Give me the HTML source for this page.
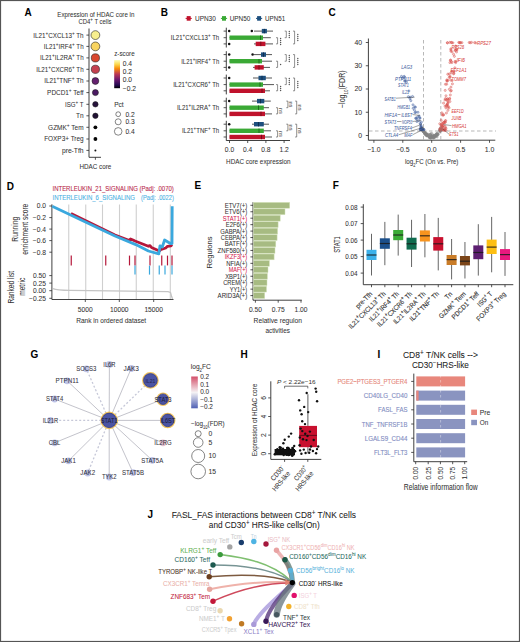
<!DOCTYPE html>
<html><head><meta charset="utf-8"><style>
html,body{margin:0;padding:0;background:#fff;}
#f{position:relative;width:520px;height:642px;overflow:hidden;background:#fff;}
svg{position:absolute;left:0;top:0;}
text{font-family:"Liberation Sans",sans-serif;}
</style></head><body><div id="f">
<svg width="520" height="642" viewBox="0 0 520 642" font-family="Liberation Sans, sans-serif" fill="#333">
<text x="24.6" y="16.4" font-size="10" font-weight="bold" fill="#000">A</text>
<text x="57.30" y="16.77" font-size="7.13" fill="#333333" stroke="#333333" stroke-width="0.05" textLength="77.10" lengthAdjust="spacingAndGlyphs">Expression of HDAC core in</text>
<text x="78.50" y="23.97" font-size="7.13" fill="#333333" stroke="#333333" stroke-width="0.05" textLength="32.90" lengthAdjust="spacingAndGlyphs">CD4<tspan font-size="75%" baseline-shift="super">+</tspan> T cells</text>
<line x1="89.00" y1="28.50" x2="89.00" y2="157.30" stroke="#2b2b2b" stroke-width="0.9"/>
<line x1="89.00" y1="157.30" x2="101.00" y2="157.30" stroke="#2b2b2b" stroke-width="0.9"/>
<line x1="95.40" y1="157.30" x2="95.40" y2="159.80" stroke="#2b2b2b" stroke-width="0.8"/>
<text x="95.40" y="169.14" font-size="7.34" text-anchor="middle" fill="#333333" stroke="#333333" stroke-width="0.05" textLength="32.00" lengthAdjust="spacingAndGlyphs">HDAC core</text>
<line x1="86.40" y1="35.10" x2="89.00" y2="35.10" stroke="#2b2b2b" stroke-width="0.8"/>
<text x="83.60" y="37.59" font-size="6.91" text-anchor="end" fill="#333333" stroke="#333333" stroke-width="0.05" textLength="50.30" lengthAdjust="spacingAndGlyphs">IL21<tspan font-size="75%" baseline-shift="super">+</tspan>CXCL13<tspan font-size="75%" baseline-shift="super">+</tspan> Th</text>
<circle cx="95.40" cy="35.10" r="4.40" fill="#f7ef8e" stroke="#222" stroke-width="0.6"/>
<line x1="86.40" y1="46.40" x2="89.00" y2="46.40" stroke="#2b2b2b" stroke-width="0.8"/>
<text x="83.60" y="48.89" font-size="6.91" text-anchor="end" fill="#333333" stroke="#333333" stroke-width="0.05" textLength="39.80" lengthAdjust="spacingAndGlyphs">IL21<tspan font-size="75%" baseline-shift="super">+</tspan>IRF4<tspan font-size="75%" baseline-shift="super">+</tspan> Th</text>
<circle cx="95.40" cy="46.40" r="4.40" fill="#f8d460" stroke="#222" stroke-width="0.6"/>
<line x1="86.40" y1="57.90" x2="89.00" y2="57.90" stroke="#2b2b2b" stroke-width="0.8"/>
<text x="83.60" y="60.39" font-size="6.91" text-anchor="end" fill="#333333" stroke="#333333" stroke-width="0.05" textLength="43.60" lengthAdjust="spacingAndGlyphs">IL21<tspan font-size="75%" baseline-shift="super">+</tspan>IL2RA<tspan font-size="75%" baseline-shift="super">+</tspan> Th</text>
<circle cx="95.40" cy="57.90" r="4.10" fill="#d9472f" stroke="#222" stroke-width="0.6"/>
<line x1="86.40" y1="69.30" x2="89.00" y2="69.30" stroke="#2b2b2b" stroke-width="0.8"/>
<text x="83.60" y="71.79" font-size="6.91" text-anchor="end" fill="#333333" stroke="#333333" stroke-width="0.05" textLength="47.40" lengthAdjust="spacingAndGlyphs">IL21<tspan font-size="75%" baseline-shift="super">+</tspan>CXCR6<tspan font-size="75%" baseline-shift="super">+</tspan> Th</text>
<circle cx="95.40" cy="69.30" r="4.10" fill="#c4414f" stroke="#222" stroke-width="0.6"/>
<line x1="86.40" y1="81.00" x2="89.00" y2="81.00" stroke="#2b2b2b" stroke-width="0.8"/>
<text x="83.60" y="83.49" font-size="6.91" text-anchor="end" fill="#333333" stroke="#333333" stroke-width="0.05" textLength="39.40" lengthAdjust="spacingAndGlyphs">IL21<tspan font-size="75%" baseline-shift="super">+</tspan>TNF<tspan font-size="75%" baseline-shift="super">+</tspan> Th</text>
<circle cx="95.40" cy="81.00" r="3.40" fill="#65206f" stroke="#222" stroke-width="0.6"/>
<line x1="86.40" y1="92.60" x2="89.00" y2="92.60" stroke="#2b2b2b" stroke-width="0.8"/>
<text x="83.60" y="95.09" font-size="6.91" text-anchor="end" fill="#333333" stroke="#333333" stroke-width="0.05" textLength="36.50" lengthAdjust="spacingAndGlyphs">PDCD1<tspan font-size="75%" baseline-shift="super">+</tspan> Teff</text>
<circle cx="95.40" cy="92.60" r="3.00" fill="#4b1a63" stroke="#222" stroke-width="0.6"/>
<line x1="86.40" y1="104.30" x2="89.00" y2="104.30" stroke="#2b2b2b" stroke-width="0.8"/>
<text x="83.60" y="106.79" font-size="6.91" text-anchor="end" fill="#333333" stroke="#333333" stroke-width="0.05" textLength="18.60" lengthAdjust="spacingAndGlyphs">ISG<tspan font-size="75%" baseline-shift="super">+</tspan> T</text>
<circle cx="95.40" cy="104.30" r="2.70" fill="#27123c" stroke="#222" stroke-width="0.6"/>
<line x1="86.40" y1="115.80" x2="89.00" y2="115.80" stroke="#2b2b2b" stroke-width="0.8"/>
<text x="83.60" y="118.29" font-size="6.91" text-anchor="end" fill="#333333" stroke="#333333" stroke-width="0.05" textLength="7.60" lengthAdjust="spacingAndGlyphs">Tn</text>
<circle cx="95.40" cy="115.80" r="2.70" fill="#211134" stroke="#222" stroke-width="0.6"/>
<line x1="86.40" y1="127.30" x2="89.00" y2="127.30" stroke="#2b2b2b" stroke-width="0.8"/>
<text x="83.60" y="129.79" font-size="6.91" text-anchor="end" fill="#333333" stroke="#333333" stroke-width="0.05" textLength="35.50" lengthAdjust="spacingAndGlyphs">GZMK<tspan font-size="75%" baseline-shift="super">+</tspan> Tem</text>
<circle cx="95.40" cy="127.30" r="1.90" fill="#050505"/>
<line x1="86.40" y1="139.00" x2="89.00" y2="139.00" stroke="#2b2b2b" stroke-width="0.8"/>
<text x="83.60" y="141.49" font-size="6.91" text-anchor="end" fill="#333333" stroke="#333333" stroke-width="0.05" textLength="39.40" lengthAdjust="spacingAndGlyphs">FOXP3+ Treg</text>
<circle cx="95.40" cy="139.00" r="1.90" fill="#050505"/>
<line x1="86.40" y1="150.40" x2="89.00" y2="150.40" stroke="#2b2b2b" stroke-width="0.8"/>
<text x="83.60" y="152.89" font-size="6.91" text-anchor="end" fill="#333333" stroke="#333333" stroke-width="0.05" textLength="21.70" lengthAdjust="spacingAndGlyphs">pre-Tfh</text>
<circle cx="95.40" cy="150.40" r="1.00" fill="#111"/>
<text x="114.20" y="56.04" font-size="7.34" fill="#333333" stroke="#333333" stroke-width="0.05" textLength="20.50" lengthAdjust="spacingAndGlyphs">z-score</text>
<defs><linearGradient id="inf" x1="0" y1="0" x2="0" y2="1"><stop offset="0" stop-color="#fcfdbf"/><stop offset="0.15" stop-color="#fcd94e"/><stop offset="0.3" stop-color="#f98e09"/><stop offset="0.5" stop-color="#bc3754"/><stop offset="0.7" stop-color="#6a176e"/><stop offset="0.88" stop-color="#280b53"/><stop offset="1" stop-color="#000004"/></linearGradient><linearGradient id="rdbu" x1="0" y1="0" x2="0" y2="1"><stop offset="0" stop-color="#d4506a"/><stop offset="0.5" stop-color="#f4f2f4"/><stop offset="1" stop-color="#4f60b4"/></linearGradient></defs>
<rect x="114.20" y="60.00" width="5.80" height="28.20" fill="url(#inf)"/>
<text x="122.80" y="65.81" font-size="6.7" fill="#333333" stroke="#333333" stroke-width="0.05">0.4</text>
<text x="122.80" y="74.01" font-size="6.7" fill="#333333" stroke="#333333" stroke-width="0.05">0.2</text>
<text x="122.80" y="82.41" font-size="6.7" fill="#333333" stroke="#333333" stroke-width="0.05">0.0</text>
<text x="122.80" y="90.81" font-size="6.7" fill="#333333" stroke="#333333" stroke-width="0.05">−0.2</text>
<text x="114.20" y="107.24" font-size="7.34" fill="#333333" stroke="#333333" stroke-width="0.05" textLength="9.50" lengthAdjust="spacingAndGlyphs">Pct</text>
<circle cx="118.20" cy="114.20" r="2.40" fill="none" stroke="#333" stroke-width="0.6"/>
<text x="125.40" y="116.61" font-size="6.7" fill="#333333" stroke="#333333" stroke-width="0.05">0.2</text>
<circle cx="118.20" cy="121.80" r="3.00" fill="none" stroke="#333" stroke-width="0.6"/>
<text x="125.40" y="124.21" font-size="6.7" fill="#333333" stroke="#333333" stroke-width="0.05">0.3</text>
<circle cx="118.20" cy="131.40" r="3.80" fill="none" stroke="#333" stroke-width="0.6"/>
<text x="125.40" y="133.81" font-size="6.7" fill="#333333" stroke="#333333" stroke-width="0.05">0.4</text>
<text x="160.8" y="16.3" font-size="10" font-weight="bold" fill="#000">B</text>
<line x1="185.60" y1="18.40" x2="191.80" y2="18.40" stroke="#c0122c" stroke-width="1.0"/>
<rect x="186.70" y="16.10" width="4.00" height="4.60" fill="#c0122c"/>
<text x="195.00" y="20.89" font-size="6.91" fill="#333333" stroke="#333333" stroke-width="0.05" textLength="20.80" lengthAdjust="spacingAndGlyphs">UPN30</text>
<line x1="220.90" y1="18.40" x2="227.10" y2="18.40" stroke="#3aa935" stroke-width="1.0"/>
<rect x="222.00" y="16.10" width="4.00" height="4.60" fill="#3aa935"/>
<text x="229.70" y="20.89" font-size="6.91" fill="#333333" stroke="#333333" stroke-width="0.05" textLength="20.70" lengthAdjust="spacingAndGlyphs">UPN50</text>
<line x1="256.00" y1="18.40" x2="262.20" y2="18.40" stroke="#1d4f7e" stroke-width="1.0"/>
<rect x="257.10" y="16.10" width="4.00" height="4.60" fill="#1d4f7e"/>
<text x="265.00" y="20.89" font-size="6.91" fill="#333333" stroke="#333333" stroke-width="0.05" textLength="20.10" lengthAdjust="spacingAndGlyphs">UPN51</text>
<line x1="226.30" y1="27.70" x2="226.30" y2="47.50" stroke="#2b2b2b" stroke-width="0.9"/>
<text x="219.20" y="40.19" font-size="6.91" text-anchor="end" fill="#333333" stroke="#333333" stroke-width="0.05" textLength="48.40" lengthAdjust="spacingAndGlyphs">IL21<tspan font-size="75%" baseline-shift="super">+</tspan>CXCL13<tspan font-size="75%" baseline-shift="super">+</tspan> Th</text>
<line x1="223.60" y1="31.10" x2="226.30" y2="31.10" stroke="#2b2b2b" stroke-width="0.8"/>
<line x1="254.00" y1="31.10" x2="273.00" y2="31.10" stroke="#383838" stroke-width="0.85"/>
<rect x="261.80" y="28.90" width="5.10" height="4.40" fill="#1d4f7e"/>
<line x1="264.40" y1="28.90" x2="264.40" y2="33.30" stroke="#0f2f50" stroke-width="1.0"/>
<circle cx="229.20" cy="31.10" r="1.25" fill="#111"/>
<circle cx="251.80" cy="31.10" r="1.25" fill="#111"/>
<line x1="223.60" y1="37.70" x2="226.30" y2="37.70" stroke="#2b2b2b" stroke-width="0.8"/>
<line x1="229.50" y1="37.70" x2="270.80" y2="37.70" stroke="#383838" stroke-width="0.85"/>
<rect x="229.50" y="35.50" width="33.50" height="4.40" fill="#3aa935"/>
<line x1="260.50" y1="35.50" x2="260.50" y2="39.90" stroke="#1f6a1c" stroke-width="1.0"/>
<line x1="223.60" y1="43.90" x2="226.30" y2="43.90" stroke="#2b2b2b" stroke-width="0.8"/>
<line x1="254.00" y1="43.90" x2="273.00" y2="43.90" stroke="#383838" stroke-width="0.85"/>
<rect x="255.70" y="41.70" width="9.70" height="4.40" fill="#c0122c"/>
<line x1="260.80" y1="41.70" x2="260.80" y2="46.10" stroke="#7a0a1a" stroke-width="1.0"/>
<circle cx="229.20" cy="43.90" r="1.25" fill="#111"/>
<path d="M276.0,37.7 H277.6 V43.9 H276.0" stroke="#444" stroke-width="0.6" fill="none"/>
<circle cx="280.60" cy="38.50" r="0.70" fill="#555"/>
<circle cx="280.60" cy="40.50" r="0.70" fill="#555"/>
<circle cx="280.60" cy="42.50" r="0.70" fill="#555"/>
<circle cx="280.60" cy="44.50" r="0.70" fill="#555"/>
<path d="M284.7,31.1 H286.3 V37.7 H284.7" stroke="#444" stroke-width="0.6" fill="none"/>
<circle cx="289.30" cy="31.50" r="0.70" fill="#555"/>
<circle cx="289.30" cy="33.50" r="0.70" fill="#555"/>
<circle cx="289.30" cy="35.50" r="0.70" fill="#555"/>
<circle cx="289.30" cy="37.50" r="0.70" fill="#555"/>
<path d="M293.0,31.1 H294.6 V43.9 H293.0" stroke="#444" stroke-width="0.6" fill="none"/>
<circle cx="297.80" cy="34.50" r="0.70" fill="#555"/>
<circle cx="297.80" cy="36.50" r="0.70" fill="#555"/>
<circle cx="297.80" cy="38.50" r="0.70" fill="#555"/>
<circle cx="297.80" cy="40.50" r="0.70" fill="#555"/>
<line x1="226.30" y1="51.20" x2="226.30" y2="71.00" stroke="#2b2b2b" stroke-width="0.9"/>
<text x="219.20" y="63.69" font-size="6.91" text-anchor="end" fill="#333333" stroke="#333333" stroke-width="0.05" textLength="38.00" lengthAdjust="spacingAndGlyphs">IL21<tspan font-size="75%" baseline-shift="super">+</tspan>IRF4<tspan font-size="75%" baseline-shift="super">+</tspan> Th</text>
<line x1="223.60" y1="54.60" x2="226.30" y2="54.60" stroke="#2b2b2b" stroke-width="0.8"/>
<line x1="254.00" y1="54.60" x2="272.00" y2="54.60" stroke="#383838" stroke-width="0.85"/>
<rect x="261.00" y="52.40" width="5.00" height="4.40" fill="#1d4f7e"/>
<line x1="263.50" y1="52.40" x2="263.50" y2="56.80" stroke="#0f2f50" stroke-width="1.0"/>
<circle cx="229.20" cy="54.60" r="1.25" fill="#111"/>
<circle cx="252.60" cy="54.60" r="1.25" fill="#111"/>
<line x1="223.60" y1="61.20" x2="226.30" y2="61.20" stroke="#2b2b2b" stroke-width="0.8"/>
<line x1="229.50" y1="61.20" x2="272.00" y2="61.20" stroke="#383838" stroke-width="0.85"/>
<rect x="229.50" y="59.00" width="32.50" height="4.40" fill="#3aa935"/>
<line x1="259.00" y1="59.00" x2="259.00" y2="63.40" stroke="#1f6a1c" stroke-width="1.0"/>
<line x1="223.60" y1="67.40" x2="226.30" y2="67.40" stroke="#2b2b2b" stroke-width="0.8"/>
<line x1="253.00" y1="67.40" x2="270.00" y2="67.40" stroke="#383838" stroke-width="0.85"/>
<rect x="254.60" y="65.20" width="9.20" height="4.40" fill="#c0122c"/>
<line x1="259.00" y1="65.20" x2="259.00" y2="69.60" stroke="#7a0a1a" stroke-width="1.0"/>
<circle cx="229.20" cy="67.40" r="1.25" fill="#111"/>
<path d="M276.0,61.2 H277.6 V67.4 H276.0" stroke="#444" stroke-width="0.6" fill="none"/>
<circle cx="280.60" cy="64.50" r="0.70" fill="#555"/>
<path d="M284.7,54.6 H286.3 V61.2 H284.7" stroke="#444" stroke-width="0.6" fill="none"/>
<circle cx="289.30" cy="55.50" r="0.70" fill="#555"/>
<circle cx="289.30" cy="57.50" r="0.70" fill="#555"/>
<circle cx="289.30" cy="59.50" r="0.70" fill="#555"/>
<circle cx="289.30" cy="61.50" r="0.70" fill="#555"/>
<path d="M293.0,54.6 H294.6 V67.4 H293.0" stroke="#444" stroke-width="0.6" fill="none"/>
<circle cx="297.80" cy="58.50" r="0.70" fill="#555"/>
<circle cx="297.80" cy="60.50" r="0.70" fill="#555"/>
<circle cx="297.80" cy="62.50" r="0.70" fill="#555"/>
<circle cx="297.80" cy="64.50" r="0.70" fill="#555"/>
<line x1="226.30" y1="74.60" x2="226.30" y2="94.40" stroke="#2b2b2b" stroke-width="0.9"/>
<text x="219.20" y="87.09" font-size="6.91" text-anchor="end" fill="#333333" stroke="#333333" stroke-width="0.05" textLength="46.00" lengthAdjust="spacingAndGlyphs">IL21<tspan font-size="75%" baseline-shift="super">+</tspan>CXCR6<tspan font-size="75%" baseline-shift="super">+</tspan> Th</text>
<line x1="223.60" y1="78.00" x2="226.30" y2="78.00" stroke="#2b2b2b" stroke-width="0.8"/>
<line x1="253.00" y1="78.00" x2="272.00" y2="78.00" stroke="#383838" stroke-width="0.85"/>
<rect x="258.50" y="75.80" width="7.30" height="4.40" fill="#1d4f7e"/>
<line x1="262.00" y1="75.80" x2="262.00" y2="80.20" stroke="#0f2f50" stroke-width="1.0"/>
<circle cx="229.20" cy="78.00" r="1.25" fill="#111"/>
<line x1="223.60" y1="84.60" x2="226.30" y2="84.60" stroke="#2b2b2b" stroke-width="0.8"/>
<line x1="229.50" y1="84.60" x2="274.00" y2="84.60" stroke="#383838" stroke-width="0.85"/>
<rect x="229.50" y="82.40" width="33.50" height="4.40" fill="#3aa935"/>
<line x1="260.00" y1="82.40" x2="260.00" y2="86.80" stroke="#1f6a1c" stroke-width="1.0"/>
<line x1="223.60" y1="90.80" x2="226.30" y2="90.80" stroke="#2b2b2b" stroke-width="0.8"/>
<line x1="229.50" y1="90.80" x2="270.00" y2="90.80" stroke="#383838" stroke-width="0.85"/>
<rect x="229.50" y="88.60" width="35.50" height="4.40" fill="#c0122c"/>
<line x1="262.00" y1="88.60" x2="262.00" y2="93.00" stroke="#7a0a1a" stroke-width="1.0"/>
<path d="M276.0,84.6 H277.6 V90.8 H276.0" stroke="#444" stroke-width="0.6" fill="none"/>
<circle cx="280.60" cy="86.50" r="0.70" fill="#555"/>
<circle cx="280.60" cy="88.50" r="0.70" fill="#555"/>
<circle cx="280.60" cy="90.50" r="0.70" fill="#555"/>
<path d="M284.7,78.0 H286.3 V84.6 H284.7" stroke="#444" stroke-width="0.6" fill="none"/>
<circle cx="289.30" cy="78.50" r="0.70" fill="#555"/>
<circle cx="289.30" cy="80.50" r="0.70" fill="#555"/>
<circle cx="289.30" cy="82.50" r="0.70" fill="#555"/>
<circle cx="289.30" cy="84.50" r="0.70" fill="#555"/>
<path d="M293.0,78.0 H294.6 V90.8 H293.0" stroke="#444" stroke-width="0.6" fill="none"/>
<circle cx="297.80" cy="81.50" r="0.70" fill="#555"/>
<circle cx="297.80" cy="83.50" r="0.70" fill="#555"/>
<circle cx="297.80" cy="85.50" r="0.70" fill="#555"/>
<circle cx="297.80" cy="87.50" r="0.70" fill="#555"/>
<line x1="226.30" y1="97.70" x2="226.30" y2="117.50" stroke="#2b2b2b" stroke-width="0.9"/>
<text x="219.20" y="110.19" font-size="6.91" text-anchor="end" fill="#333333" stroke="#333333" stroke-width="0.05" textLength="42.30" lengthAdjust="spacingAndGlyphs">IL21<tspan font-size="75%" baseline-shift="super">+</tspan>IL2RA<tspan font-size="75%" baseline-shift="super">+</tspan> Th</text>
<line x1="223.60" y1="101.10" x2="226.30" y2="101.10" stroke="#2b2b2b" stroke-width="0.8"/>
<line x1="252.00" y1="101.10" x2="270.80" y2="101.10" stroke="#383838" stroke-width="0.85"/>
<rect x="257.00" y="98.90" width="7.30" height="4.40" fill="#1d4f7e"/>
<line x1="260.50" y1="98.90" x2="260.50" y2="103.30" stroke="#0f2f50" stroke-width="1.0"/>
<circle cx="229.20" cy="101.10" r="1.25" fill="#111"/>
<line x1="223.60" y1="107.70" x2="226.30" y2="107.70" stroke="#2b2b2b" stroke-width="0.8"/>
<line x1="229.50" y1="107.70" x2="269.00" y2="107.70" stroke="#383838" stroke-width="0.85"/>
<rect x="229.50" y="105.50" width="34.30" height="4.40" fill="#3aa935"/>
<line x1="258.50" y1="105.50" x2="258.50" y2="109.90" stroke="#1f6a1c" stroke-width="1.0"/>
<line x1="223.60" y1="113.90" x2="226.30" y2="113.90" stroke="#2b2b2b" stroke-width="0.8"/>
<line x1="229.50" y1="113.90" x2="272.00" y2="113.90" stroke="#383838" stroke-width="0.85"/>
<rect x="229.50" y="111.70" width="35.50" height="4.40" fill="#c0122c"/>
<line x1="261.00" y1="111.70" x2="261.00" y2="116.10" stroke="#7a0a1a" stroke-width="1.0"/>
<path d="M276.0,107.7 H277.6 V113.9 H276.0" stroke="#444" stroke-width="0.6" fill="none"/>
<text x="280.60" y="112.82" font-size="5.62" text-anchor="middle" fill="#555" stroke="#555" stroke-width="0.05" transform="rotate(90 280.60 110.80)">ns</text>
<path d="M286.3,101.1 H287.9 V107.7 H286.3" stroke="#444" stroke-width="0.6" fill="none"/>
<text x="290.90" y="106.42" font-size="5.62" text-anchor="middle" fill="#555" stroke="#555" stroke-width="0.05" transform="rotate(90 290.90 104.40)">ns</text>
<path d="M295.1,101.1 H296.7 V113.9 H295.1" stroke="#444" stroke-width="0.6" fill="none"/>
<text x="299.88" y="109.52" font-size="5.62" text-anchor="middle" fill="#555" stroke="#555" stroke-width="0.05" transform="rotate(90 299.88 107.50)">ns</text>
<line x1="226.30" y1="120.80" x2="226.30" y2="140.60" stroke="#2b2b2b" stroke-width="0.9"/>
<text x="219.20" y="133.29" font-size="6.91" text-anchor="end" fill="#333333" stroke="#333333" stroke-width="0.05" textLength="37.30" lengthAdjust="spacingAndGlyphs">IL21<tspan font-size="75%" baseline-shift="super">+</tspan>TNF<tspan font-size="75%" baseline-shift="super">+</tspan> Th</text>
<line x1="223.60" y1="124.20" x2="226.30" y2="124.20" stroke="#2b2b2b" stroke-width="0.8"/>
<line x1="252.00" y1="124.20" x2="269.00" y2="124.20" stroke="#383838" stroke-width="0.85"/>
<rect x="254.00" y="122.00" width="9.80" height="4.40" fill="#1d4f7e"/>
<line x1="258.50" y1="122.00" x2="258.50" y2="126.40" stroke="#0f2f50" stroke-width="1.0"/>
<circle cx="229.20" cy="124.20" r="1.25" fill="#111"/>
<line x1="223.60" y1="130.80" x2="226.30" y2="130.80" stroke="#2b2b2b" stroke-width="0.8"/>
<line x1="229.50" y1="130.80" x2="271.00" y2="130.80" stroke="#383838" stroke-width="0.85"/>
<rect x="229.50" y="128.60" width="34.30" height="4.40" fill="#3aa935"/>
<line x1="259.00" y1="128.60" x2="259.00" y2="133.00" stroke="#1f6a1c" stroke-width="1.0"/>
<line x1="223.60" y1="137.00" x2="226.30" y2="137.00" stroke="#2b2b2b" stroke-width="0.8"/>
<line x1="229.50" y1="137.00" x2="272.00" y2="137.00" stroke="#383838" stroke-width="0.85"/>
<rect x="229.50" y="134.80" width="35.50" height="4.40" fill="#c0122c"/>
<line x1="261.50" y1="134.80" x2="261.50" y2="139.20" stroke="#7a0a1a" stroke-width="1.0"/>
<path d="M276.0,130.8 H277.6 V137.0 H276.0" stroke="#444" stroke-width="0.6" fill="none"/>
<text x="280.60" y="135.92" font-size="5.62" text-anchor="middle" fill="#555" stroke="#555" stroke-width="0.05" transform="rotate(90 280.60 133.90)">ns</text>
<path d="M286.3,124.2 H287.9 V130.8 H286.3" stroke="#444" stroke-width="0.6" fill="none"/>
<text x="290.90" y="129.52" font-size="5.62" text-anchor="middle" fill="#555" stroke="#555" stroke-width="0.05" transform="rotate(90 290.90 127.50)">ns</text>
<path d="M295.1,124.2 H296.7 V137.0 H295.1" stroke="#444" stroke-width="0.6" fill="none"/>
<text x="299.88" y="132.62" font-size="5.62" text-anchor="middle" fill="#555" stroke="#555" stroke-width="0.05" transform="rotate(90 299.88 130.60)">ns</text>
<line x1="226.30" y1="140.50" x2="290.00" y2="140.50" stroke="#2b2b2b" stroke-width="0.9"/>
<line x1="229.50" y1="140.50" x2="229.50" y2="143.00" stroke="#2b2b2b" stroke-width="0.8"/>
<text x="229.50" y="151.71" font-size="6.7" text-anchor="middle" fill="#333333" stroke="#333333" stroke-width="0.05">0.0</text>
<line x1="247.70" y1="140.50" x2="247.70" y2="143.00" stroke="#2b2b2b" stroke-width="0.8"/>
<text x="247.70" y="151.71" font-size="6.7" text-anchor="middle" fill="#333333" stroke="#333333" stroke-width="0.05">0.4</text>
<line x1="265.90" y1="140.50" x2="265.90" y2="143.00" stroke="#2b2b2b" stroke-width="0.8"/>
<text x="265.90" y="151.71" font-size="6.7" text-anchor="middle" fill="#333333" stroke="#333333" stroke-width="0.05">0.8</text>
<line x1="284.10" y1="140.50" x2="284.10" y2="143.00" stroke="#2b2b2b" stroke-width="0.8"/>
<text x="284.10" y="151.71" font-size="6.7" text-anchor="middle" fill="#333333" stroke="#333333" stroke-width="0.05">1.2</text>
<text x="258.30" y="163.88" font-size="7.99" text-anchor="middle" fill="#333333" stroke="#333333" stroke-width="0.05" textLength="64.50" lengthAdjust="spacingAndGlyphs">HDAC core expression</text>
<text x="328.6" y="16.4" font-size="10" font-weight="bold" fill="#000">C</text>
<line x1="368.40" y1="38.50" x2="368.40" y2="140.20" stroke="#2b2b2b" stroke-width="0.9"/>
<line x1="368.40" y1="140.20" x2="495.30" y2="140.20" stroke="#2b2b2b" stroke-width="0.9"/>
<line x1="365.80" y1="135.50" x2="368.40" y2="135.50" stroke="#2b2b2b" stroke-width="0.8"/>
<text x="362.20" y="137.99" font-size="6.91" text-anchor="end" fill="#333333" stroke="#333333" stroke-width="0.05">0</text>
<line x1="365.80" y1="112.25" x2="368.40" y2="112.25" stroke="#2b2b2b" stroke-width="0.8"/>
<text x="362.20" y="114.74" font-size="6.91" text-anchor="end" fill="#333333" stroke="#333333" stroke-width="0.05">10</text>
<line x1="365.80" y1="89.00" x2="368.40" y2="89.00" stroke="#2b2b2b" stroke-width="0.8"/>
<text x="362.20" y="91.49" font-size="6.91" text-anchor="end" fill="#333333" stroke="#333333" stroke-width="0.05">20</text>
<line x1="365.80" y1="65.75" x2="368.40" y2="65.75" stroke="#2b2b2b" stroke-width="0.8"/>
<text x="362.20" y="68.24" font-size="6.91" text-anchor="end" fill="#333333" stroke="#333333" stroke-width="0.05">30</text>
<line x1="365.80" y1="42.50" x2="368.40" y2="42.50" stroke="#2b2b2b" stroke-width="0.8"/>
<text x="362.20" y="44.99" font-size="6.91" text-anchor="end" fill="#333333" stroke="#333333" stroke-width="0.05">40</text>
<line x1="373.90" y1="140.20" x2="373.90" y2="142.80" stroke="#2b2b2b" stroke-width="0.8"/>
<text x="373.90" y="151.79" font-size="6.91" text-anchor="middle" fill="#333333" stroke="#333333" stroke-width="0.05">−1.0</text>
<line x1="402.80" y1="140.20" x2="402.80" y2="142.80" stroke="#2b2b2b" stroke-width="0.8"/>
<text x="402.80" y="151.79" font-size="6.91" text-anchor="middle" fill="#333333" stroke="#333333" stroke-width="0.05">−0.5</text>
<line x1="431.70" y1="140.20" x2="431.70" y2="142.80" stroke="#2b2b2b" stroke-width="0.8"/>
<text x="431.70" y="151.79" font-size="6.91" text-anchor="middle" fill="#333333" stroke="#333333" stroke-width="0.05">0.0</text>
<line x1="460.60" y1="140.20" x2="460.60" y2="142.80" stroke="#2b2b2b" stroke-width="0.8"/>
<text x="460.60" y="151.79" font-size="6.91" text-anchor="middle" fill="#333333" stroke="#333333" stroke-width="0.05">0.5</text>
<line x1="489.50" y1="140.20" x2="489.50" y2="142.80" stroke="#2b2b2b" stroke-width="0.8"/>
<text x="489.50" y="151.79" font-size="6.91" text-anchor="middle" fill="#333333" stroke="#333333" stroke-width="0.05">1.0</text>
<text x="405.00" y="163.88" font-size="7.99" fill="#333333" stroke="#333333" stroke-width="0.05" textLength="53.40" lengthAdjust="spacingAndGlyphs">log<tspan font-size="65%" baseline-shift="sub">2</tspan>FC (On vs. Pre)</text>
<text x="342.20" y="92.27" font-size="8.53" text-anchor="middle" fill="#333333" stroke="#333333" stroke-width="0.05" textLength="37.50" lengthAdjust="spacingAndGlyphs" transform="rotate(-90 342.20 89.20)">−log<tspan font-size="65%" baseline-shift="sub">10</tspan>(FDR)</text>
<line x1="369.00" y1="131.00" x2="496.00" y2="131.00" stroke="#9a9a9a" stroke-width="0.7" stroke-dasharray="3.5,2.5"/>
<line x1="423.50" y1="40.00" x2="423.50" y2="140.00" stroke="#9a9a9a" stroke-width="0.7" stroke-dasharray="3.5,2.5"/>
<line x1="440.80" y1="40.00" x2="440.80" y2="140.00" stroke="#9a9a9a" stroke-width="0.7" stroke-dasharray="3.5,2.5"/>
<circle cx="430.70" cy="135.00" r="1.05" fill="#858585" stroke="#858585" stroke-width="0.45" fill-opacity="0.25"/>
<circle cx="430.98" cy="136.32" r="1.05" fill="#858585" stroke="#858585" stroke-width="0.45" fill-opacity="0.25"/>
<circle cx="431.86" cy="136.65" r="1.05" fill="#858585" stroke="#858585" stroke-width="0.45" fill-opacity="0.25"/>
<circle cx="431.95" cy="136.86" r="1.05" fill="#858585" stroke="#858585" stroke-width="0.45" fill-opacity="0.25"/>
<circle cx="434.43" cy="136.68" r="1.05" fill="#858585" stroke="#858585" stroke-width="0.45" fill-opacity="0.25"/>
<circle cx="427.57" cy="135.30" r="1.05" fill="#858585" stroke="#858585" stroke-width="0.45" fill-opacity="0.25"/>
<circle cx="423.10" cy="131.40" r="1.05" fill="#858585" stroke="#858585" stroke-width="0.45" fill-opacity="0.25"/>
<circle cx="422.08" cy="127.79" r="1.05" fill="#858585" stroke="#858585" stroke-width="0.45" fill-opacity="0.25"/>
<circle cx="441.83" cy="129.79" r="1.05" fill="#858585" stroke="#858585" stroke-width="0.45" fill-opacity="0.25"/>
<circle cx="434.13" cy="136.37" r="1.05" fill="#858585" stroke="#858585" stroke-width="0.45" fill-opacity="0.25"/>
<circle cx="424.51" cy="133.96" r="1.05" fill="#858585" stroke="#858585" stroke-width="0.45" fill-opacity="0.25"/>
<circle cx="422.45" cy="129.94" r="1.05" fill="#858585" stroke="#858585" stroke-width="0.45" fill-opacity="0.25"/>
<circle cx="425.19" cy="133.57" r="1.05" fill="#858585" stroke="#858585" stroke-width="0.45" fill-opacity="0.25"/>
<circle cx="430.94" cy="137.40" r="1.05" fill="#858585" stroke="#858585" stroke-width="0.45" fill-opacity="0.25"/>
<circle cx="430.45" cy="137.73" r="1.05" fill="#858585" stroke="#858585" stroke-width="0.45" fill-opacity="0.25"/>
<circle cx="434.65" cy="135.44" r="1.05" fill="#858585" stroke="#858585" stroke-width="0.45" fill-opacity="0.25"/>
<circle cx="431.70" cy="136.62" r="1.05" fill="#858585" stroke="#858585" stroke-width="0.45" fill-opacity="0.25"/>
<circle cx="427.04" cy="134.39" r="1.05" fill="#858585" stroke="#858585" stroke-width="0.45" fill-opacity="0.25"/>
<circle cx="442.15" cy="129.70" r="1.05" fill="#858585" stroke="#858585" stroke-width="0.45" fill-opacity="0.25"/>
<circle cx="436.06" cy="135.51" r="1.05" fill="#858585" stroke="#858585" stroke-width="0.45" fill-opacity="0.25"/>
<circle cx="427.82" cy="136.01" r="1.05" fill="#858585" stroke="#858585" stroke-width="0.45" fill-opacity="0.25"/>
<circle cx="422.67" cy="131.00" r="1.05" fill="#858585" stroke="#858585" stroke-width="0.45" fill-opacity="0.25"/>
<circle cx="437.29" cy="132.94" r="1.05" fill="#858585" stroke="#858585" stroke-width="0.45" fill-opacity="0.25"/>
<circle cx="429.32" cy="137.84" r="1.05" fill="#858585" stroke="#858585" stroke-width="0.45" fill-opacity="0.25"/>
<circle cx="441.32" cy="129.25" r="1.05" fill="#858585" stroke="#858585" stroke-width="0.45" fill-opacity="0.25"/>
<circle cx="425.60" cy="133.97" r="1.05" fill="#858585" stroke="#858585" stroke-width="0.45" fill-opacity="0.25"/>
<circle cx="440.32" cy="128.05" r="1.05" fill="#858585" stroke="#858585" stroke-width="0.45" fill-opacity="0.25"/>
<circle cx="429.55" cy="137.33" r="1.05" fill="#858585" stroke="#858585" stroke-width="0.45" fill-opacity="0.25"/>
<circle cx="422.73" cy="129.08" r="1.05" fill="#858585" stroke="#858585" stroke-width="0.45" fill-opacity="0.25"/>
<circle cx="426.87" cy="133.92" r="1.05" fill="#858585" stroke="#858585" stroke-width="0.45" fill-opacity="0.25"/>
<circle cx="423.03" cy="129.44" r="1.05" fill="#858585" stroke="#858585" stroke-width="0.45" fill-opacity="0.25"/>
<circle cx="437.12" cy="136.91" r="1.05" fill="#858585" stroke="#858585" stroke-width="0.45" fill-opacity="0.25"/>
<circle cx="423.68" cy="131.67" r="1.05" fill="#858585" stroke="#858585" stroke-width="0.45" fill-opacity="0.25"/>
<circle cx="422.46" cy="130.30" r="1.05" fill="#858585" stroke="#858585" stroke-width="0.45" fill-opacity="0.25"/>
<circle cx="437.94" cy="134.41" r="1.05" fill="#858585" stroke="#858585" stroke-width="0.45" fill-opacity="0.25"/>
<circle cx="430.60" cy="138.25" r="1.05" fill="#858585" stroke="#858585" stroke-width="0.45" fill-opacity="0.25"/>
<circle cx="425.20" cy="133.50" r="1.05" fill="#858585" stroke="#858585" stroke-width="0.45" fill-opacity="0.25"/>
<circle cx="434.72" cy="135.89" r="1.05" fill="#858585" stroke="#858585" stroke-width="0.45" fill-opacity="0.25"/>
<circle cx="423.65" cy="131.00" r="1.05" fill="#858585" stroke="#858585" stroke-width="0.45" fill-opacity="0.25"/>
<circle cx="426.87" cy="135.52" r="1.05" fill="#858585" stroke="#858585" stroke-width="0.45" fill-opacity="0.25"/>
<circle cx="441.59" cy="129.05" r="1.05" fill="#858585" stroke="#858585" stroke-width="0.45" fill-opacity="0.25"/>
<circle cx="439.78" cy="130.77" r="1.05" fill="#858585" stroke="#858585" stroke-width="0.45" fill-opacity="0.25"/>
<circle cx="425.62" cy="132.47" r="1.05" fill="#858585" stroke="#858585" stroke-width="0.45" fill-opacity="0.25"/>
<circle cx="434.68" cy="137.65" r="1.05" fill="#858585" stroke="#858585" stroke-width="0.45" fill-opacity="0.25"/>
<circle cx="423.31" cy="131.82" r="1.05" fill="#858585" stroke="#858585" stroke-width="0.45" fill-opacity="0.25"/>
<circle cx="426.62" cy="134.93" r="1.05" fill="#858585" stroke="#858585" stroke-width="0.45" fill-opacity="0.25"/>
<circle cx="437.43" cy="133.98" r="1.05" fill="#858585" stroke="#858585" stroke-width="0.45" fill-opacity="0.25"/>
<circle cx="422.74" cy="131.02" r="1.05" fill="#858585" stroke="#858585" stroke-width="0.45" fill-opacity="0.25"/>
<circle cx="423.09" cy="130.17" r="1.05" fill="#858585" stroke="#858585" stroke-width="0.45" fill-opacity="0.25"/>
<circle cx="433.83" cy="136.44" r="1.05" fill="#858585" stroke="#858585" stroke-width="0.45" fill-opacity="0.25"/>
<circle cx="429.01" cy="134.15" r="1.05" fill="#858585" stroke="#858585" stroke-width="0.45" fill-opacity="0.25"/>
<circle cx="431.36" cy="137.92" r="1.05" fill="#858585" stroke="#858585" stroke-width="0.45" fill-opacity="0.25"/>
<circle cx="433.27" cy="137.41" r="1.05" fill="#858585" stroke="#858585" stroke-width="0.45" fill-opacity="0.25"/>
<circle cx="424.44" cy="132.18" r="1.05" fill="#858585" stroke="#858585" stroke-width="0.45" fill-opacity="0.25"/>
<circle cx="440.28" cy="131.17" r="1.05" fill="#858585" stroke="#858585" stroke-width="0.45" fill-opacity="0.25"/>
<circle cx="425.19" cy="132.85" r="1.05" fill="#858585" stroke="#858585" stroke-width="0.45" fill-opacity="0.25"/>
<circle cx="436.73" cy="135.64" r="1.05" fill="#858585" stroke="#858585" stroke-width="0.45" fill-opacity="0.25"/>
<circle cx="441.15" cy="129.26" r="1.05" fill="#858585" stroke="#858585" stroke-width="0.45" fill-opacity="0.25"/>
<circle cx="439.73" cy="130.82" r="1.05" fill="#858585" stroke="#858585" stroke-width="0.45" fill-opacity="0.25"/>
<circle cx="423.38" cy="130.60" r="1.05" fill="#858585" stroke="#858585" stroke-width="0.45" fill-opacity="0.25"/>
<circle cx="422.01" cy="129.83" r="1.05" fill="#858585" stroke="#858585" stroke-width="0.45" fill-opacity="0.25"/>
<circle cx="436.00" cy="135.44" r="1.05" fill="#858585" stroke="#858585" stroke-width="0.45" fill-opacity="0.25"/>
<circle cx="426.60" cy="135.56" r="1.05" fill="#858585" stroke="#858585" stroke-width="0.45" fill-opacity="0.25"/>
<circle cx="427.36" cy="134.37" r="1.05" fill="#858585" stroke="#858585" stroke-width="0.45" fill-opacity="0.25"/>
<circle cx="424.88" cy="133.13" r="1.05" fill="#858585" stroke="#858585" stroke-width="0.45" fill-opacity="0.25"/>
<circle cx="426.00" cy="134.03" r="1.05" fill="#858585" stroke="#858585" stroke-width="0.45" fill-opacity="0.25"/>
<circle cx="432.95" cy="137.89" r="1.05" fill="#858585" stroke="#858585" stroke-width="0.45" fill-opacity="0.25"/>
<circle cx="427.08" cy="134.26" r="1.05" fill="#858585" stroke="#858585" stroke-width="0.45" fill-opacity="0.25"/>
<circle cx="440.46" cy="130.63" r="1.05" fill="#858585" stroke="#858585" stroke-width="0.45" fill-opacity="0.25"/>
<circle cx="426.85" cy="135.35" r="1.05" fill="#858585" stroke="#858585" stroke-width="0.45" fill-opacity="0.25"/>
<circle cx="430.56" cy="137.67" r="1.05" fill="#858585" stroke="#858585" stroke-width="0.45" fill-opacity="0.25"/>
<circle cx="428.94" cy="136.78" r="1.05" fill="#858585" stroke="#858585" stroke-width="0.45" fill-opacity="0.25"/>
<circle cx="433.22" cy="137.64" r="1.05" fill="#858585" stroke="#858585" stroke-width="0.45" fill-opacity="0.25"/>
<circle cx="439.91" cy="132.09" r="1.05" fill="#858585" stroke="#858585" stroke-width="0.45" fill-opacity="0.25"/>
<circle cx="441.79" cy="127.58" r="1.05" fill="#858585" stroke="#858585" stroke-width="0.45" fill-opacity="0.25"/>
<circle cx="433.47" cy="135.65" r="1.05" fill="#858585" stroke="#858585" stroke-width="0.45" fill-opacity="0.25"/>
<circle cx="424.15" cy="132.47" r="1.05" fill="#858585" stroke="#858585" stroke-width="0.45" fill-opacity="0.25"/>
<circle cx="440.31" cy="130.85" r="1.05" fill="#858585" stroke="#858585" stroke-width="0.45" fill-opacity="0.25"/>
<circle cx="435.92" cy="135.87" r="1.05" fill="#858585" stroke="#858585" stroke-width="0.45" fill-opacity="0.25"/>
<circle cx="434.56" cy="136.45" r="1.05" fill="#858585" stroke="#858585" stroke-width="0.45" fill-opacity="0.25"/>
<circle cx="431.33" cy="137.08" r="1.05" fill="#858585" stroke="#858585" stroke-width="0.45" fill-opacity="0.25"/>
<circle cx="442.19" cy="126.85" r="1.05" fill="#858585" stroke="#858585" stroke-width="0.45" fill-opacity="0.25"/>
<circle cx="422.78" cy="128.78" r="1.05" fill="#858585" stroke="#858585" stroke-width="0.45" fill-opacity="0.25"/>
<circle cx="440.10" cy="130.65" r="1.05" fill="#858585" stroke="#858585" stroke-width="0.45" fill-opacity="0.25"/>
<circle cx="436.68" cy="134.55" r="1.05" fill="#858585" stroke="#858585" stroke-width="0.45" fill-opacity="0.25"/>
<circle cx="440.42" cy="128.95" r="1.05" fill="#858585" stroke="#858585" stroke-width="0.45" fill-opacity="0.25"/>
<circle cx="428.59" cy="135.51" r="1.05" fill="#858585" stroke="#858585" stroke-width="0.45" fill-opacity="0.25"/>
<circle cx="439.49" cy="129.99" r="1.05" fill="#858585" stroke="#858585" stroke-width="0.45" fill-opacity="0.25"/>
<circle cx="429.96" cy="137.44" r="1.05" fill="#858585" stroke="#858585" stroke-width="0.45" fill-opacity="0.25"/>
<circle cx="433.23" cy="135.07" r="1.05" fill="#858585" stroke="#858585" stroke-width="0.45" fill-opacity="0.25"/>
<circle cx="434.32" cy="135.63" r="1.05" fill="#858585" stroke="#858585" stroke-width="0.45" fill-opacity="0.25"/>
<circle cx="433.99" cy="137.64" r="1.05" fill="#858585" stroke="#858585" stroke-width="0.45" fill-opacity="0.25"/>
<circle cx="422.88" cy="128.48" r="1.05" fill="#858585" stroke="#858585" stroke-width="0.45" fill-opacity="0.25"/>
<circle cx="439.68" cy="129.29" r="1.05" fill="#858585" stroke="#858585" stroke-width="0.45" fill-opacity="0.25"/>
<circle cx="436.49" cy="133.98" r="1.05" fill="#858585" stroke="#858585" stroke-width="0.45" fill-opacity="0.25"/>
<circle cx="433.40" cy="138.00" r="1.05" fill="#858585" stroke="#858585" stroke-width="0.45" fill-opacity="0.25"/>
<circle cx="430.45" cy="137.29" r="1.05" fill="#858585" stroke="#858585" stroke-width="0.45" fill-opacity="0.25"/>
<circle cx="436.95" cy="134.47" r="1.05" fill="#858585" stroke="#858585" stroke-width="0.45" fill-opacity="0.25"/>
<circle cx="421.83" cy="127.88" r="1.05" fill="#858585" stroke="#858585" stroke-width="0.45" fill-opacity="0.25"/>
<circle cx="426.03" cy="133.75" r="1.05" fill="#858585" stroke="#858585" stroke-width="0.45" fill-opacity="0.25"/>
<circle cx="435.87" cy="134.32" r="1.05" fill="#858585" stroke="#858585" stroke-width="0.45" fill-opacity="0.25"/>
<circle cx="440.53" cy="130.51" r="1.05" fill="#858585" stroke="#858585" stroke-width="0.45" fill-opacity="0.25"/>
<circle cx="426.57" cy="135.78" r="1.05" fill="#858585" stroke="#858585" stroke-width="0.45" fill-opacity="0.25"/>
<circle cx="435.44" cy="136.05" r="1.05" fill="#858585" stroke="#858585" stroke-width="0.45" fill-opacity="0.25"/>
<circle cx="425.45" cy="134.89" r="1.05" fill="#858585" stroke="#858585" stroke-width="0.45" fill-opacity="0.25"/>
<circle cx="434.00" cy="135.53" r="1.05" fill="#858585" stroke="#858585" stroke-width="0.45" fill-opacity="0.25"/>
<circle cx="437.34" cy="134.93" r="1.05" fill="#858585" stroke="#858585" stroke-width="0.45" fill-opacity="0.25"/>
<circle cx="434.09" cy="136.42" r="1.05" fill="#858585" stroke="#858585" stroke-width="0.45" fill-opacity="0.25"/>
<circle cx="430.70" cy="133.85" r="1.05" fill="#858585" stroke="#858585" stroke-width="0.45" fill-opacity="0.25"/>
<circle cx="437.66" cy="133.82" r="1.05" fill="#858585" stroke="#858585" stroke-width="0.45" fill-opacity="0.25"/>
<circle cx="430.04" cy="134.95" r="1.05" fill="#858585" stroke="#858585" stroke-width="0.45" fill-opacity="0.25"/>
<circle cx="429.06" cy="136.59" r="1.05" fill="#858585" stroke="#858585" stroke-width="0.45" fill-opacity="0.25"/>
<circle cx="431.65" cy="133.34" r="1.05" fill="#858585" stroke="#858585" stroke-width="0.45" fill-opacity="0.25"/>
<circle cx="436.72" cy="134.37" r="1.05" fill="#858585" stroke="#858585" stroke-width="0.45" fill-opacity="0.25"/>
<circle cx="438.18" cy="134.52" r="1.05" fill="#858585" stroke="#858585" stroke-width="0.45" fill-opacity="0.25"/>
<circle cx="426.94" cy="135.04" r="1.05" fill="#858585" stroke="#858585" stroke-width="0.45" fill-opacity="0.25"/>
<circle cx="428.46" cy="136.17" r="1.05" fill="#858585" stroke="#858585" stroke-width="0.45" fill-opacity="0.25"/>
<circle cx="430.46" cy="134.71" r="1.05" fill="#858585" stroke="#858585" stroke-width="0.45" fill-opacity="0.25"/>
<circle cx="431.61" cy="135.94" r="1.05" fill="#858585" stroke="#858585" stroke-width="0.45" fill-opacity="0.25"/>
<circle cx="436.58" cy="133.78" r="1.05" fill="#858585" stroke="#858585" stroke-width="0.45" fill-opacity="0.25"/>
<circle cx="431.02" cy="137.13" r="1.05" fill="#858585" stroke="#858585" stroke-width="0.45" fill-opacity="0.25"/>
<circle cx="424.95" cy="133.60" r="1.05" fill="#858585" stroke="#858585" stroke-width="0.45" fill-opacity="0.25"/>
<circle cx="425.10" cy="133.87" r="1.05" fill="#858585" stroke="#858585" stroke-width="0.45" fill-opacity="0.25"/>
<circle cx="432.72" cy="136.07" r="1.05" fill="#858585" stroke="#858585" stroke-width="0.45" fill-opacity="0.25"/>
<circle cx="435.90" cy="136.36" r="1.05" fill="#858585" stroke="#858585" stroke-width="0.45" fill-opacity="0.25"/>
<circle cx="442.76" cy="126.02" r="1.05" fill="#d9534f" stroke="#d9534f" stroke-width="0.45" fill-opacity="0.25"/>
<circle cx="444.95" cy="130.41" r="1.05" fill="#d9534f" stroke="#d9534f" stroke-width="0.45" fill-opacity="0.25"/>
<circle cx="441.22" cy="120.29" r="1.05" fill="#d9534f" stroke="#d9534f" stroke-width="0.45" fill-opacity="0.25"/>
<circle cx="443.53" cy="129.76" r="1.05" fill="#d9534f" stroke="#d9534f" stroke-width="0.45" fill-opacity="0.25"/>
<circle cx="447.01" cy="105.29" r="1.05" fill="#d9534f" stroke="#d9534f" stroke-width="0.45" fill-opacity="0.25"/>
<circle cx="450.92" cy="87.13" r="1.05" fill="#d9534f" stroke="#d9534f" stroke-width="0.45" fill-opacity="0.25"/>
<circle cx="454.37" cy="56.36" r="1.05" fill="#d9534f" stroke="#d9534f" stroke-width="0.45" fill-opacity="0.25"/>
<circle cx="443.40" cy="122.58" r="1.05" fill="#d9534f" stroke="#d9534f" stroke-width="0.45" fill-opacity="0.25"/>
<circle cx="439.75" cy="123.76" r="1.05" fill="#d9534f" stroke="#d9534f" stroke-width="0.45" fill-opacity="0.25"/>
<circle cx="447.94" cy="103.20" r="1.05" fill="#d9534f" stroke="#d9534f" stroke-width="0.45" fill-opacity="0.25"/>
<circle cx="441.71" cy="123.73" r="1.05" fill="#d9534f" stroke="#d9534f" stroke-width="0.45" fill-opacity="0.25"/>
<circle cx="446.43" cy="112.98" r="1.05" fill="#d9534f" stroke="#d9534f" stroke-width="0.45" fill-opacity="0.25"/>
<circle cx="447.77" cy="99.17" r="1.05" fill="#d9534f" stroke="#d9534f" stroke-width="0.45" fill-opacity="0.25"/>
<circle cx="449.20" cy="77.39" r="1.05" fill="#d9534f" stroke="#d9534f" stroke-width="0.45" fill-opacity="0.25"/>
<circle cx="453.55" cy="73.83" r="1.05" fill="#d9534f" stroke="#d9534f" stroke-width="0.45" fill-opacity="0.25"/>
<circle cx="446.02" cy="128.25" r="1.05" fill="#d9534f" stroke="#d9534f" stroke-width="0.45" fill-opacity="0.25"/>
<circle cx="446.75" cy="80.71" r="1.05" fill="#d9534f" stroke="#d9534f" stroke-width="0.45" fill-opacity="0.25"/>
<circle cx="447.06" cy="104.72" r="1.05" fill="#d9534f" stroke="#d9534f" stroke-width="0.45" fill-opacity="0.25"/>
<circle cx="451.32" cy="61.58" r="1.05" fill="#d9534f" stroke="#d9534f" stroke-width="0.45" fill-opacity="0.25"/>
<circle cx="450.35" cy="94.97" r="1.05" fill="#d9534f" stroke="#d9534f" stroke-width="0.45" fill-opacity="0.25"/>
<circle cx="453.91" cy="73.34" r="1.05" fill="#d9534f" stroke="#d9534f" stroke-width="0.45" fill-opacity="0.25"/>
<circle cx="447.37" cy="103.89" r="1.05" fill="#d9534f" stroke="#d9534f" stroke-width="0.45" fill-opacity="0.25"/>
<circle cx="445.29" cy="122.26" r="1.05" fill="#d9534f" stroke="#d9534f" stroke-width="0.45" fill-opacity="0.25"/>
<circle cx="451.95" cy="71.14" r="1.05" fill="#d9534f" stroke="#d9534f" stroke-width="0.45" fill-opacity="0.25"/>
<circle cx="447.31" cy="81.17" r="1.05" fill="#d9534f" stroke="#d9534f" stroke-width="0.45" fill-opacity="0.25"/>
<circle cx="455.69" cy="62.64" r="1.05" fill="#d9534f" stroke="#d9534f" stroke-width="0.45" fill-opacity="0.25"/>
<circle cx="453.55" cy="54.29" r="1.05" fill="#d9534f" stroke="#d9534f" stroke-width="0.45" fill-opacity="0.25"/>
<circle cx="449.14" cy="73.94" r="1.05" fill="#d9534f" stroke="#d9534f" stroke-width="0.45" fill-opacity="0.25"/>
<circle cx="454.91" cy="61.58" r="1.05" fill="#d9534f" stroke="#d9534f" stroke-width="0.45" fill-opacity="0.25"/>
<circle cx="441.85" cy="112.78" r="1.05" fill="#d9534f" stroke="#d9534f" stroke-width="0.45" fill-opacity="0.25"/>
<circle cx="446.35" cy="105.73" r="1.05" fill="#d9534f" stroke="#d9534f" stroke-width="0.45" fill-opacity="0.25"/>
<circle cx="450.07" cy="76.20" r="1.05" fill="#d9534f" stroke="#d9534f" stroke-width="0.45" fill-opacity="0.25"/>
<circle cx="444.81" cy="130.31" r="1.05" fill="#d9534f" stroke="#d9534f" stroke-width="0.45" fill-opacity="0.25"/>
<circle cx="444.90" cy="129.16" r="1.05" fill="#d9534f" stroke="#d9534f" stroke-width="0.45" fill-opacity="0.25"/>
<circle cx="442.13" cy="124.08" r="1.05" fill="#d9534f" stroke="#d9534f" stroke-width="0.45" fill-opacity="0.25"/>
<circle cx="447.75" cy="74.23" r="1.05" fill="#d9534f" stroke="#d9534f" stroke-width="0.45" fill-opacity="0.25"/>
<circle cx="443.31" cy="125.37" r="1.05" fill="#d9534f" stroke="#d9534f" stroke-width="0.45" fill-opacity="0.25"/>
<circle cx="452.09" cy="80.60" r="1.05" fill="#d9534f" stroke="#d9534f" stroke-width="0.45" fill-opacity="0.25"/>
<circle cx="452.42" cy="83.89" r="1.05" fill="#d9534f" stroke="#d9534f" stroke-width="0.45" fill-opacity="0.25"/>
<circle cx="449.94" cy="101.52" r="1.05" fill="#d9534f" stroke="#d9534f" stroke-width="0.45" fill-opacity="0.25"/>
<circle cx="440.68" cy="128.30" r="1.05" fill="#d9534f" stroke="#d9534f" stroke-width="0.45" fill-opacity="0.25"/>
<circle cx="445.41" cy="98.64" r="1.05" fill="#d9534f" stroke="#d9534f" stroke-width="0.45" fill-opacity="0.25"/>
<circle cx="450.66" cy="80.08" r="1.05" fill="#d9534f" stroke="#d9534f" stroke-width="0.45" fill-opacity="0.25"/>
<circle cx="449.51" cy="98.97" r="1.05" fill="#d9534f" stroke="#d9534f" stroke-width="0.45" fill-opacity="0.25"/>
<circle cx="445.98" cy="95.75" r="1.05" fill="#d9534f" stroke="#d9534f" stroke-width="0.45" fill-opacity="0.25"/>
<circle cx="447.91" cy="110.36" r="1.05" fill="#d9534f" stroke="#d9534f" stroke-width="0.45" fill-opacity="0.25"/>
<circle cx="449.91" cy="62.59" r="1.05" fill="#d9534f" stroke="#d9534f" stroke-width="0.45" fill-opacity="0.25"/>
<circle cx="454.87" cy="67.81" r="1.05" fill="#d9534f" stroke="#d9534f" stroke-width="0.45" fill-opacity="0.25"/>
<circle cx="447.50" cy="98.84" r="1.05" fill="#d9534f" stroke="#d9534f" stroke-width="0.45" fill-opacity="0.25"/>
<circle cx="443.87" cy="122.49" r="1.05" fill="#d9534f" stroke="#d9534f" stroke-width="0.45" fill-opacity="0.25"/>
<circle cx="447.49" cy="100.63" r="1.05" fill="#d9534f" stroke="#d9534f" stroke-width="0.45" fill-opacity="0.25"/>
<circle cx="446.00" cy="130.33" r="1.05" fill="#d9534f" stroke="#d9534f" stroke-width="0.45" fill-opacity="0.25"/>
<circle cx="446.11" cy="99.54" r="1.05" fill="#d9534f" stroke="#d9534f" stroke-width="0.45" fill-opacity="0.25"/>
<circle cx="451.11" cy="72.90" r="1.05" fill="#d9534f" stroke="#d9534f" stroke-width="0.45" fill-opacity="0.25"/>
<circle cx="447.99" cy="101.64" r="1.05" fill="#d9534f" stroke="#d9534f" stroke-width="0.45" fill-opacity="0.25"/>
<circle cx="442.95" cy="129.09" r="1.05" fill="#d9534f" stroke="#d9534f" stroke-width="0.45" fill-opacity="0.25"/>
<circle cx="449.10" cy="107.87" r="1.05" fill="#d9534f" stroke="#d9534f" stroke-width="0.45" fill-opacity="0.25"/>
<circle cx="450.71" cy="60.14" r="1.05" fill="#d9534f" stroke="#d9534f" stroke-width="0.45" fill-opacity="0.25"/>
<circle cx="443.55" cy="103.12" r="1.05" fill="#d9534f" stroke="#d9534f" stroke-width="0.45" fill-opacity="0.25"/>
<circle cx="448.26" cy="106.31" r="1.05" fill="#d9534f" stroke="#d9534f" stroke-width="0.45" fill-opacity="0.25"/>
<circle cx="451.92" cy="62.58" r="1.05" fill="#d9534f" stroke="#d9534f" stroke-width="0.45" fill-opacity="0.25"/>
<circle cx="442.34" cy="115.01" r="1.05" fill="#d9534f" stroke="#d9534f" stroke-width="0.45" fill-opacity="0.25"/>
<circle cx="451.32" cy="90.56" r="1.05" fill="#d9534f" stroke="#d9534f" stroke-width="0.45" fill-opacity="0.25"/>
<circle cx="445.15" cy="126.33" r="1.05" fill="#d9534f" stroke="#d9534f" stroke-width="0.45" fill-opacity="0.25"/>
<circle cx="440.17" cy="130.45" r="1.05" fill="#d9534f" stroke="#d9534f" stroke-width="0.45" fill-opacity="0.25"/>
<circle cx="445.22" cy="120.92" r="1.05" fill="#d9534f" stroke="#d9534f" stroke-width="0.45" fill-opacity="0.25"/>
<circle cx="443.62" cy="114.67" r="1.05" fill="#d9534f" stroke="#d9534f" stroke-width="0.45" fill-opacity="0.25"/>
<circle cx="445.19" cy="90.39" r="1.05" fill="#d9534f" stroke="#d9534f" stroke-width="0.45" fill-opacity="0.25"/>
<circle cx="446.82" cy="79.88" r="1.05" fill="#d9534f" stroke="#d9534f" stroke-width="0.45" fill-opacity="0.25"/>
<circle cx="444.92" cy="100.01" r="1.05" fill="#d9534f" stroke="#d9534f" stroke-width="0.45" fill-opacity="0.25"/>
<circle cx="443.80" cy="122.68" r="1.05" fill="#d9534f" stroke="#d9534f" stroke-width="0.45" fill-opacity="0.25"/>
<circle cx="445.00" cy="106.06" r="1.05" fill="#d9534f" stroke="#d9534f" stroke-width="0.45" fill-opacity="0.25"/>
<circle cx="445.89" cy="107.90" r="1.05" fill="#d9534f" stroke="#d9534f" stroke-width="0.45" fill-opacity="0.25"/>
<circle cx="441.05" cy="124.79" r="1.05" fill="#d9534f" stroke="#d9534f" stroke-width="0.45" fill-opacity="0.25"/>
<circle cx="449.34" cy="89.33" r="1.05" fill="#d9534f" stroke="#d9534f" stroke-width="0.45" fill-opacity="0.25"/>
<circle cx="449.65" cy="98.38" r="1.05" fill="#d9534f" stroke="#d9534f" stroke-width="0.45" fill-opacity="0.25"/>
<circle cx="450.72" cy="91.12" r="1.05" fill="#d9534f" stroke="#d9534f" stroke-width="0.45" fill-opacity="0.25"/>
<circle cx="445.67" cy="120.59" r="1.05" fill="#d9534f" stroke="#d9534f" stroke-width="0.45" fill-opacity="0.25"/>
<circle cx="453.79" cy="71.94" r="1.05" fill="#d9534f" stroke="#d9534f" stroke-width="0.45" fill-opacity="0.25"/>
<circle cx="443.26" cy="115.10" r="1.05" fill="#d9534f" stroke="#d9534f" stroke-width="0.45" fill-opacity="0.25"/>
<circle cx="450.32" cy="60.21" r="1.05" fill="#d9534f" stroke="#d9534f" stroke-width="0.45" fill-opacity="0.25"/>
<circle cx="456.51" cy="51.98" r="1.05" fill="#d9534f" stroke="#d9534f" stroke-width="0.45" fill-opacity="0.25"/>
<circle cx="441.13" cy="126.11" r="1.05" fill="#d9534f" stroke="#d9534f" stroke-width="0.45" fill-opacity="0.25"/>
<circle cx="447.78" cy="80.30" r="1.05" fill="#d9534f" stroke="#d9534f" stroke-width="0.45" fill-opacity="0.25"/>
<circle cx="445.33" cy="127.83" r="1.05" fill="#d9534f" stroke="#d9534f" stroke-width="0.45" fill-opacity="0.25"/>
<circle cx="447.93" cy="107.26" r="1.05" fill="#d9534f" stroke="#d9534f" stroke-width="0.45" fill-opacity="0.25"/>
<circle cx="442.30" cy="126.50" r="1.05" fill="#d9534f" stroke="#d9534f" stroke-width="0.45" fill-opacity="0.25"/>
<circle cx="445.40" cy="84.29" r="1.05" fill="#d9534f" stroke="#d9534f" stroke-width="0.45" fill-opacity="0.25"/>
<circle cx="444.96" cy="122.49" r="1.05" fill="#d9534f" stroke="#d9534f" stroke-width="0.45" fill-opacity="0.25"/>
<circle cx="455.78" cy="61.43" r="1.05" fill="#d9534f" stroke="#d9534f" stroke-width="0.45" fill-opacity="0.25"/>
<circle cx="443.00" cy="127.00" r="1.05" fill="#d9534f" stroke="#d9534f" stroke-width="0.45" fill-opacity="0.25"/>
<circle cx="450.05" cy="77.20" r="1.05" fill="#d9534f" stroke="#d9534f" stroke-width="0.45" fill-opacity="0.25"/>
<circle cx="446.69" cy="84.24" r="1.05" fill="#d9534f" stroke="#d9534f" stroke-width="0.45" fill-opacity="0.25"/>
<circle cx="439.73" cy="128.92" r="1.05" fill="#d9534f" stroke="#d9534f" stroke-width="0.45" fill-opacity="0.25"/>
<circle cx="442.91" cy="130.05" r="1.05" fill="#d9534f" stroke="#d9534f" stroke-width="0.45" fill-opacity="0.25"/>
<circle cx="461.93" cy="42.64" r="1.05" fill="#d9534f" stroke="#d9534f" stroke-width="0.45" fill-opacity="0.25"/>
<circle cx="451.25" cy="42.41" r="1.05" fill="#d9534f" stroke="#d9534f" stroke-width="0.45" fill-opacity="0.25"/>
<circle cx="452.91" cy="42.80" r="1.05" fill="#d9534f" stroke="#d9534f" stroke-width="0.45" fill-opacity="0.25"/>
<circle cx="475.72" cy="42.86" r="1.05" fill="#d9534f" stroke="#d9534f" stroke-width="0.45" fill-opacity="0.25"/>
<circle cx="449.76" cy="42.34" r="1.05" fill="#d9534f" stroke="#d9534f" stroke-width="0.45" fill-opacity="0.25"/>
<circle cx="474.59" cy="42.58" r="1.05" fill="#d9534f" stroke="#d9534f" stroke-width="0.45" fill-opacity="0.25"/>
<circle cx="469.18" cy="42.50" r="1.05" fill="#d9534f" stroke="#d9534f" stroke-width="0.45" fill-opacity="0.25"/>
<circle cx="460.54" cy="42.61" r="1.05" fill="#d9534f" stroke="#d9534f" stroke-width="0.45" fill-opacity="0.25"/>
<circle cx="459.47" cy="42.66" r="1.05" fill="#d9534f" stroke="#d9534f" stroke-width="0.45" fill-opacity="0.25"/>
<circle cx="447.38" cy="42.72" r="1.05" fill="#d9534f" stroke="#d9534f" stroke-width="0.45" fill-opacity="0.25"/>
<circle cx="471.48" cy="42.41" r="1.05" fill="#d9534f" stroke="#d9534f" stroke-width="0.45" fill-opacity="0.25"/>
<circle cx="460.16" cy="42.74" r="1.05" fill="#d9534f" stroke="#d9534f" stroke-width="0.45" fill-opacity="0.25"/>
<circle cx="458.75" cy="42.42" r="1.05" fill="#d9534f" stroke="#d9534f" stroke-width="0.45" fill-opacity="0.25"/>
<circle cx="451.79" cy="42.61" r="1.05" fill="#d9534f" stroke="#d9534f" stroke-width="0.45" fill-opacity="0.25"/>
<circle cx="447.45" cy="42.84" r="1.05" fill="#d9534f" stroke="#d9534f" stroke-width="0.45" fill-opacity="0.25"/>
<circle cx="470.25" cy="42.72" r="1.05" fill="#d9534f" stroke="#d9534f" stroke-width="0.45" fill-opacity="0.25"/>
<circle cx="456.33" cy="49.04" r="1.05" fill="#d9534f" stroke="#d9534f" stroke-width="0.45" fill-opacity="0.25"/>
<circle cx="450.85" cy="48.80" r="1.05" fill="#d9534f" stroke="#d9534f" stroke-width="0.45" fill-opacity="0.25"/>
<circle cx="452.05" cy="51.86" r="1.05" fill="#d9534f" stroke="#d9534f" stroke-width="0.45" fill-opacity="0.25"/>
<circle cx="455.66" cy="46.07" r="1.05" fill="#d9534f" stroke="#d9534f" stroke-width="0.45" fill-opacity="0.25"/>
<circle cx="456.94" cy="49.96" r="1.05" fill="#d9534f" stroke="#d9534f" stroke-width="0.45" fill-opacity="0.25"/>
<circle cx="455.34" cy="50.52" r="1.05" fill="#d9534f" stroke="#d9534f" stroke-width="0.45" fill-opacity="0.25"/>
<circle cx="450.87" cy="51.17" r="1.05" fill="#d9534f" stroke="#d9534f" stroke-width="0.45" fill-opacity="0.25"/>
<circle cx="456.56" cy="49.56" r="1.05" fill="#d9534f" stroke="#d9534f" stroke-width="0.45" fill-opacity="0.25"/>
<circle cx="455.21" cy="50.12" r="1.05" fill="#d9534f" stroke="#d9534f" stroke-width="0.45" fill-opacity="0.25"/>
<circle cx="450.87" cy="49.78" r="1.05" fill="#d9534f" stroke="#d9534f" stroke-width="0.45" fill-opacity="0.25"/>
<circle cx="420.98" cy="129.51" r="1.05" fill="#3f5f9f" stroke="#3f5f9f" stroke-width="0.45" fill-opacity="0.25"/>
<circle cx="415.62" cy="118.27" r="1.05" fill="#3f5f9f" stroke="#3f5f9f" stroke-width="0.45" fill-opacity="0.25"/>
<circle cx="420.23" cy="123.47" r="1.05" fill="#3f5f9f" stroke="#3f5f9f" stroke-width="0.45" fill-opacity="0.25"/>
<circle cx="413.17" cy="108.27" r="1.05" fill="#3f5f9f" stroke="#3f5f9f" stroke-width="0.45" fill-opacity="0.25"/>
<circle cx="404.15" cy="76.35" r="1.05" fill="#3f5f9f" stroke="#3f5f9f" stroke-width="0.45" fill-opacity="0.25"/>
<circle cx="420.56" cy="124.13" r="1.05" fill="#3f5f9f" stroke="#3f5f9f" stroke-width="0.45" fill-opacity="0.25"/>
<circle cx="415.87" cy="112.16" r="1.05" fill="#3f5f9f" stroke="#3f5f9f" stroke-width="0.45" fill-opacity="0.25"/>
<circle cx="421.38" cy="122.09" r="1.05" fill="#3f5f9f" stroke="#3f5f9f" stroke-width="0.45" fill-opacity="0.25"/>
<circle cx="414.80" cy="106.86" r="1.05" fill="#3f5f9f" stroke="#3f5f9f" stroke-width="0.45" fill-opacity="0.25"/>
<circle cx="412.48" cy="96.47" r="1.05" fill="#3f5f9f" stroke="#3f5f9f" stroke-width="0.45" fill-opacity="0.25"/>
<circle cx="422.26" cy="129.67" r="1.05" fill="#3f5f9f" stroke="#3f5f9f" stroke-width="0.45" fill-opacity="0.25"/>
<circle cx="409.97" cy="98.63" r="1.05" fill="#3f5f9f" stroke="#3f5f9f" stroke-width="0.45" fill-opacity="0.25"/>
<circle cx="416.93" cy="121.57" r="1.05" fill="#3f5f9f" stroke="#3f5f9f" stroke-width="0.45" fill-opacity="0.25"/>
<circle cx="420.62" cy="128.02" r="1.05" fill="#3f5f9f" stroke="#3f5f9f" stroke-width="0.45" fill-opacity="0.25"/>
<circle cx="420.50" cy="129.32" r="1.05" fill="#3f5f9f" stroke="#3f5f9f" stroke-width="0.45" fill-opacity="0.25"/>
<circle cx="405.25" cy="81.08" r="1.05" fill="#3f5f9f" stroke="#3f5f9f" stroke-width="0.45" fill-opacity="0.25"/>
<circle cx="419.17" cy="116.07" r="1.05" fill="#3f5f9f" stroke="#3f5f9f" stroke-width="0.45" fill-opacity="0.25"/>
<circle cx="417.99" cy="112.27" r="1.05" fill="#3f5f9f" stroke="#3f5f9f" stroke-width="0.45" fill-opacity="0.25"/>
<circle cx="415.40" cy="107.20" r="1.05" fill="#3f5f9f" stroke="#3f5f9f" stroke-width="0.45" fill-opacity="0.25"/>
<circle cx="422.12" cy="129.48" r="1.05" fill="#3f5f9f" stroke="#3f5f9f" stroke-width="0.45" fill-opacity="0.25"/>
<circle cx="408.36" cy="96.71" r="1.05" fill="#3f5f9f" stroke="#3f5f9f" stroke-width="0.45" fill-opacity="0.25"/>
<circle cx="402.48" cy="78.14" r="1.05" fill="#3f5f9f" stroke="#3f5f9f" stroke-width="0.45" fill-opacity="0.25"/>
<circle cx="416.28" cy="118.11" r="1.05" fill="#3f5f9f" stroke="#3f5f9f" stroke-width="0.45" fill-opacity="0.25"/>
<circle cx="417.81" cy="116.79" r="1.05" fill="#3f5f9f" stroke="#3f5f9f" stroke-width="0.45" fill-opacity="0.25"/>
<circle cx="423.71" cy="129.57" r="1.05" fill="#3f5f9f" stroke="#3f5f9f" stroke-width="0.45" fill-opacity="0.25"/>
<circle cx="418.77" cy="120.69" r="1.05" fill="#3f5f9f" stroke="#3f5f9f" stroke-width="0.45" fill-opacity="0.25"/>
<circle cx="414.44" cy="110.19" r="1.05" fill="#3f5f9f" stroke="#3f5f9f" stroke-width="0.45" fill-opacity="0.25"/>
<circle cx="421.13" cy="125.85" r="1.05" fill="#3f5f9f" stroke="#3f5f9f" stroke-width="0.45" fill-opacity="0.25"/>
<circle cx="414.95" cy="112.76" r="1.05" fill="#3f5f9f" stroke="#3f5f9f" stroke-width="0.45" fill-opacity="0.25"/>
<circle cx="410.84" cy="100.65" r="1.05" fill="#3f5f9f" stroke="#3f5f9f" stroke-width="0.45" fill-opacity="0.25"/>
<circle cx="420.60" cy="129.68" r="1.05" fill="#3f5f9f" stroke="#3f5f9f" stroke-width="0.45" fill-opacity="0.25"/>
<circle cx="420.18" cy="129.63" r="1.05" fill="#3f5f9f" stroke="#3f5f9f" stroke-width="0.45" fill-opacity="0.25"/>
<circle cx="410.06" cy="97.15" r="1.05" fill="#3f5f9f" stroke="#3f5f9f" stroke-width="0.45" fill-opacity="0.25"/>
<circle cx="406.47" cy="82.03" r="1.05" fill="#3f5f9f" stroke="#3f5f9f" stroke-width="0.45" fill-opacity="0.25"/>
<circle cx="423.92" cy="129.60" r="1.05" fill="#3f5f9f" stroke="#3f5f9f" stroke-width="0.45" fill-opacity="0.25"/>
<circle cx="401.49" cy="76.38" r="1.05" fill="#3f5f9f" stroke="#3f5f9f" stroke-width="0.45" fill-opacity="0.25"/>
<circle cx="404.71" cy="81.09" r="1.05" fill="#3f5f9f" stroke="#3f5f9f" stroke-width="0.45" fill-opacity="0.25"/>
<circle cx="419.79" cy="117.79" r="1.05" fill="#3f5f9f" stroke="#3f5f9f" stroke-width="0.45" fill-opacity="0.25"/>
<circle cx="420.92" cy="126.98" r="1.05" fill="#3f5f9f" stroke="#3f5f9f" stroke-width="0.45" fill-opacity="0.25"/>
<circle cx="404.72" cy="77.27" r="1.05" fill="#3f5f9f" stroke="#3f5f9f" stroke-width="0.45" fill-opacity="0.25"/>
<circle cx="419.98" cy="118.29" r="1.05" fill="#3f5f9f" stroke="#3f5f9f" stroke-width="0.45" fill-opacity="0.25"/>
<circle cx="408.89" cy="90.97" r="1.05" fill="#3f5f9f" stroke="#3f5f9f" stroke-width="0.45" fill-opacity="0.25"/>
<circle cx="422.13" cy="129.17" r="1.05" fill="#3f5f9f" stroke="#3f5f9f" stroke-width="0.45" fill-opacity="0.25"/>
<circle cx="416.73" cy="118.96" r="1.05" fill="#3f5f9f" stroke="#3f5f9f" stroke-width="0.45" fill-opacity="0.25"/>
<circle cx="421.85" cy="129.60" r="1.05" fill="#3f5f9f" stroke="#3f5f9f" stroke-width="0.45" fill-opacity="0.25"/>
<circle cx="421.28" cy="129.07" r="1.05" fill="#3f5f9f" stroke="#3f5f9f" stroke-width="0.45" fill-opacity="0.25"/>
<circle cx="412.99" cy="104.81" r="1.05" fill="#3f5f9f" stroke="#3f5f9f" stroke-width="0.45" fill-opacity="0.25"/>
<circle cx="421.03" cy="126.51" r="1.05" fill="#3f5f9f" stroke="#3f5f9f" stroke-width="0.45" fill-opacity="0.25"/>
<text x="401.20" y="69.38" font-size="6.05" fill="#3f5e9e" stroke="#3f5e9e" stroke-width="0.05" textLength="11.10" lengthAdjust="spacingAndGlyphs" font-style="italic">LAG3</text>
<text x="395.00" y="80.88" font-size="6.05" fill="#3f5e9e" stroke="#3f5e9e" stroke-width="0.05" textLength="16.20" lengthAdjust="spacingAndGlyphs" font-style="italic">PTPN11</text>
<text x="398.00" y="87.38" font-size="6.05" fill="#3f5e9e" stroke="#3f5e9e" stroke-width="0.05" textLength="10.90" lengthAdjust="spacingAndGlyphs" font-style="italic">STAT1</text>
<text x="402.00" y="93.58" font-size="6.05" fill="#3f5e9e" stroke="#3f5e9e" stroke-width="0.05" textLength="6.90" lengthAdjust="spacingAndGlyphs" font-style="italic">IL21</text>
<text x="384.60" y="100.58" font-size="6.05" fill="#3f5e9e" stroke="#3f5e9e" stroke-width="0.05" textLength="11.10" lengthAdjust="spacingAndGlyphs" font-style="italic">SATB1</text>
<text x="397.30" y="108.58" font-size="6.05" fill="#3f5e9e" stroke="#3f5e9e" stroke-width="0.05" textLength="12.70" lengthAdjust="spacingAndGlyphs" font-style="italic">HMGB1</text>
<text x="384.60" y="116.68" font-size="6.05" fill="#3f5e9e" stroke="#3f5e9e" stroke-width="0.05" textLength="12.70" lengthAdjust="spacingAndGlyphs" font-style="italic">HIF1A</text>
<text x="401.20" y="116.68" font-size="6.05" fill="#3f5e9e" stroke="#3f5e9e" stroke-width="0.05" textLength="11.10" lengthAdjust="spacingAndGlyphs" font-style="italic">IL6ST</text>
<text x="384.60" y="123.68" font-size="6.05" fill="#3f5e9e" stroke="#3f5e9e" stroke-width="0.05" textLength="11.60" lengthAdjust="spacingAndGlyphs" font-style="italic">STAT3</text>
<text x="402.00" y="123.68" font-size="6.05" fill="#3f5e9e" stroke="#3f5e9e" stroke-width="0.05" textLength="10.30" lengthAdjust="spacingAndGlyphs" font-style="italic">NOP53</text>
<text x="393.90" y="130.08" font-size="6.05" fill="#3f5e9e" stroke="#3f5e9e" stroke-width="0.05" textLength="18.00" lengthAdjust="spacingAndGlyphs" font-style="italic">TNFRSF4</text>
<text x="385.00" y="136.98" font-size="6.05" fill="#3f5e9e" stroke="#3f5e9e" stroke-width="0.05" textLength="13.00" lengthAdjust="spacingAndGlyphs" font-style="italic">CTLA4</text>
<text x="404.20" y="136.98" font-size="6.05" fill="#3f5e9e" stroke="#3f5e9e" stroke-width="0.05" textLength="8.10" lengthAdjust="spacingAndGlyphs" font-style="italic">MAF</text>
<text x="477.00" y="44.78" font-size="6.05" fill="#d8433f" stroke="#d8433f" stroke-width="0.05" textLength="13.90" lengthAdjust="spacingAndGlyphs" font-style="italic">RPS27</text>
<text x="451.60" y="48.58" font-size="6.05" fill="#d8433f" stroke="#d8433f" stroke-width="0.05" textLength="12.50" lengthAdjust="spacingAndGlyphs" font-style="italic">RPS26</text>
<text x="456.50" y="62.38" font-size="6.05" fill="#d8433f" stroke="#d8433f" stroke-width="0.05" textLength="8.50" lengthAdjust="spacingAndGlyphs" font-style="italic">IFI6</text>
<text x="450.40" y="72.38" font-size="6.05" fill="#d8433f" stroke="#d8433f" stroke-width="0.05" textLength="16.20" lengthAdjust="spacingAndGlyphs" font-style="italic">EEF1A1</text>
<text x="451.60" y="80.88" font-size="6.05" fill="#d8433f" stroke="#d8433f" stroke-width="0.05" textLength="14.30" lengthAdjust="spacingAndGlyphs" font-style="italic">TOMM7</text>
<text x="451.60" y="113.18" font-size="6.05" fill="#d8433f" stroke="#d8433f" stroke-width="0.05" textLength="12.00" lengthAdjust="spacingAndGlyphs" font-style="italic">EEF1D</text>
<text x="451.60" y="120.18" font-size="6.05" fill="#d8433f" stroke="#d8433f" stroke-width="0.05" textLength="9.70" lengthAdjust="spacingAndGlyphs" font-style="italic">JUNB</text>
<text x="452.00" y="127.78" font-size="6.05" fill="#d8433f" stroke="#d8433f" stroke-width="0.05" textLength="14.60" lengthAdjust="spacingAndGlyphs" font-style="italic">HMGA1</text>
<text x="449.30" y="136.38" font-size="6.05" fill="#d8433f" stroke="#d8433f" stroke-width="0.05" textLength="9.20" lengthAdjust="spacingAndGlyphs" font-style="italic">ETS1</text>
<line x1="396.00" y1="98.20" x2="414.60" y2="97.20" stroke="#333" stroke-width="0.45"/>
<line x1="412.50" y1="114.50" x2="420.00" y2="115.50" stroke="#333" stroke-width="0.45"/>
<line x1="412.50" y1="121.50" x2="421.00" y2="120.50" stroke="#333" stroke-width="0.45"/>
<line x1="412.00" y1="127.90" x2="421.50" y2="124.50" stroke="#333" stroke-width="0.45"/>
<line x1="398.50" y1="134.80" x2="423.00" y2="127.50" stroke="#333" stroke-width="0.45"/>
<line x1="412.50" y1="134.80" x2="424.00" y2="129.00" stroke="#333" stroke-width="0.45"/>
<line x1="397.50" y1="114.50" x2="400.50" y2="114.50" stroke="#333" stroke-width="0.45"/>
<line x1="397.00" y1="121.50" x2="401.50" y2="121.50" stroke="#333" stroke-width="0.45"/>
<line x1="451.50" y1="125.60" x2="443.50" y2="124.50" stroke="#333" stroke-width="0.45"/>
<line x1="449.00" y1="134.20" x2="443.00" y2="129.00" stroke="#333" stroke-width="0.45"/>
<text x="6.8" y="189.6" font-size="10" font-weight="bold" fill="#000">D</text>
<text x="52.50" y="191.24" font-size="7.34" fill="#b92a4c" stroke="#b92a4c" stroke-width="0.1" textLength="121.30" lengthAdjust="spacingAndGlyphs">INTERLEUKIN_21_SIGNALING (Padj: .0070)</text>
<text x="52.50" y="199.84" font-size="7.34" fill="#4db2e4" stroke="#4db2e4" stroke-width="0.1" textLength="82.50" lengthAdjust="spacingAndGlyphs">INTERLEUKIN_6_SIGNALING</text>
<text x="141.00" y="199.84" font-size="7.34" fill="#4db2e4" stroke="#4db2e4" stroke-width="0.1" textLength="32.80" lengthAdjust="spacingAndGlyphs">(Padj: .0022)</text>
<line x1="68.75" y1="204.50" x2="68.75" y2="299.50" stroke="#cfcfcf" stroke-width="1.1"/>
<line x1="85.75" y1="204.50" x2="85.75" y2="299.50" stroke="#cfcfcf" stroke-width="1.1"/>
<line x1="102.50" y1="204.50" x2="102.50" y2="299.50" stroke="#cfcfcf" stroke-width="1.1"/>
<line x1="119.50" y1="204.50" x2="119.50" y2="299.50" stroke="#cfcfcf" stroke-width="1.1"/>
<line x1="136.25" y1="204.50" x2="136.25" y2="299.50" stroke="#cfcfcf" stroke-width="1.1"/>
<line x1="153.25" y1="204.50" x2="153.25" y2="299.50" stroke="#cfcfcf" stroke-width="1.1"/>
<line x1="170.30" y1="204.50" x2="170.30" y2="299.50" stroke="#cfcfcf" stroke-width="1.1"/>
<line x1="51.90" y1="204.30" x2="51.90" y2="299.50" stroke="#2b2b2b" stroke-width="0.9"/>
<line x1="51.90" y1="299.50" x2="173.50" y2="299.50" stroke="#2b2b2b" stroke-width="0.9"/>
<line x1="49.30" y1="206.00" x2="51.90" y2="206.00" stroke="#2b2b2b" stroke-width="0.8"/>
<text x="46.00" y="208.41" font-size="6.7" text-anchor="end" fill="#333333" stroke="#333333" stroke-width="0.05">0.0</text>
<line x1="49.30" y1="217.60" x2="51.90" y2="217.60" stroke="#2b2b2b" stroke-width="0.8"/>
<text x="46.00" y="220.01" font-size="6.7" text-anchor="end" fill="#333333" stroke="#333333" stroke-width="0.05">−0.2</text>
<line x1="49.30" y1="229.10" x2="51.90" y2="229.10" stroke="#2b2b2b" stroke-width="0.8"/>
<text x="46.00" y="231.51" font-size="6.7" text-anchor="end" fill="#333333" stroke="#333333" stroke-width="0.05">−0.4</text>
<line x1="49.30" y1="240.60" x2="51.90" y2="240.60" stroke="#2b2b2b" stroke-width="0.8"/>
<text x="46.00" y="243.01" font-size="6.7" text-anchor="end" fill="#333333" stroke="#333333" stroke-width="0.05">−0.6</text>
<line x1="49.30" y1="252.20" x2="51.90" y2="252.20" stroke="#2b2b2b" stroke-width="0.8"/>
<text x="46.00" y="254.61" font-size="6.7" text-anchor="end" fill="#333333" stroke="#333333" stroke-width="0.05">−0.8</text>
<line x1="49.30" y1="275.60" x2="51.90" y2="275.60" stroke="#2b2b2b" stroke-width="0.8"/>
<text x="46.00" y="278.01" font-size="6.7" text-anchor="end" fill="#333333" stroke="#333333" stroke-width="0.05">0.50</text>
<line x1="49.30" y1="283.10" x2="51.90" y2="283.10" stroke="#2b2b2b" stroke-width="0.8"/>
<text x="46.00" y="285.51" font-size="6.7" text-anchor="end" fill="#333333" stroke="#333333" stroke-width="0.05">0.25</text>
<line x1="49.30" y1="290.70" x2="51.90" y2="290.70" stroke="#2b2b2b" stroke-width="0.8"/>
<text x="46.00" y="293.11" font-size="6.7" text-anchor="end" fill="#333333" stroke="#333333" stroke-width="0.05">0.00</text>
<line x1="49.30" y1="298.30" x2="51.90" y2="298.30" stroke="#2b2b2b" stroke-width="0.8"/>
<text x="46.00" y="300.71" font-size="6.7" text-anchor="end" fill="#333333" stroke="#333333" stroke-width="0.05">−0.25</text>
<line x1="85.30" y1="299.50" x2="85.30" y2="302.00" stroke="#2b2b2b" stroke-width="0.8"/>
<text x="85.30" y="311.91" font-size="6.7" text-anchor="middle" fill="#333333" stroke="#333333" stroke-width="0.05">5000</text>
<line x1="119.30" y1="299.50" x2="119.30" y2="302.00" stroke="#2b2b2b" stroke-width="0.8"/>
<text x="119.30" y="311.91" font-size="6.7" text-anchor="middle" fill="#333333" stroke="#333333" stroke-width="0.05">10000</text>
<line x1="153.70" y1="299.50" x2="153.70" y2="302.00" stroke="#2b2b2b" stroke-width="0.8"/>
<text x="153.70" y="311.91" font-size="6.7" text-anchor="middle" fill="#333333" stroke="#333333" stroke-width="0.05">15000</text>
<text x="76.20" y="323.12" font-size="8.1" fill="#333333" stroke="#333333" stroke-width="0.05" textLength="70.00" lengthAdjust="spacingAndGlyphs">Rank in ordered dataset</text>
<text x="15.00" y="232.16" font-size="8.21" text-anchor="middle" fill="#333333" stroke="#333333" stroke-width="0.05" textLength="25.00" lengthAdjust="spacingAndGlyphs" transform="rotate(-90 15.00 229.20)">Running</text>
<text x="25.20" y="232.16" font-size="8.21" text-anchor="middle" fill="#333333" stroke="#333333" stroke-width="0.05" textLength="51.00" lengthAdjust="spacingAndGlyphs" transform="rotate(-90 25.20 229.20)">enrichment score</text>
<text x="11.40" y="290.16" font-size="8.21" text-anchor="middle" fill="#333333" stroke="#333333" stroke-width="0.05" textLength="32.80" lengthAdjust="spacingAndGlyphs" transform="rotate(-90 11.40 287.20)">Ranked list</text>
<text x="21.80" y="289.76" font-size="8.21" text-anchor="middle" fill="#333333" stroke="#333333" stroke-width="0.05" textLength="18.10" lengthAdjust="spacingAndGlyphs" transform="rotate(-90 21.80 286.80)">metric</text>
<path d="M53,288.6 C56,289.8 60,290.2 70,290.4 L168,291.6 L170.5,292.5 L171.5,296 L172.5,299" stroke="#c4c4c4" stroke-width="1.3" fill="none"/>
<path d="M71,213.4 L115,235.0 L128.8,240.4 L130.5,239 L133,240 L135,241 L148.4,246.3 L150,245.6 L151.5,247.5 L159.4,251 L160.5,249.8 L165.7,248 L167.5,246.3 L171,245.8 L172,244.6" stroke="#b5173a" stroke-width="2.8" fill="none" stroke-linejoin="round"/>
<path d="M52.2,206.2 L115,236 L135.8,244.6 L148.4,251 L158.8,253.8 L160,245.8 L162.3,247 L164.6,240 L170.4,243.5 L172,243.5 L172.2,206.3" stroke="#3aa8de" stroke-width="2.8" fill="none" stroke-linejoin="round"/>
<line x1="71.25" y1="255.60" x2="71.25" y2="265.40" stroke="#b5173a" stroke-width="1.2"/>
<line x1="105.75" y1="255.60" x2="105.75" y2="265.40" stroke="#b5173a" stroke-width="1.2"/>
<line x1="129.50" y1="255.60" x2="129.50" y2="265.40" stroke="#b5173a" stroke-width="1.2"/>
<line x1="135.00" y1="255.60" x2="135.00" y2="265.40" stroke="#b5173a" stroke-width="1.2"/>
<line x1="150.00" y1="255.60" x2="150.00" y2="265.40" stroke="#b5173a" stroke-width="1.2"/>
<line x1="161.75" y1="255.60" x2="161.75" y2="265.40" stroke="#b5173a" stroke-width="1.2"/>
<line x1="167.50" y1="255.60" x2="167.50" y2="265.40" stroke="#b5173a" stroke-width="1.2"/>
<line x1="172.00" y1="255.60" x2="172.00" y2="265.40" stroke="#b5173a" stroke-width="1.2"/>
<line x1="135.00" y1="265.60" x2="135.00" y2="274.60" stroke="#3aa8de" stroke-width="1.2"/>
<line x1="149.50" y1="265.60" x2="149.50" y2="274.60" stroke="#3aa8de" stroke-width="1.2"/>
<line x1="159.25" y1="265.60" x2="159.25" y2="274.60" stroke="#3aa8de" stroke-width="1.2"/>
<line x1="165.00" y1="265.60" x2="165.00" y2="274.60" stroke="#3aa8de" stroke-width="1.2"/>
<line x1="172.00" y1="265.60" x2="172.00" y2="274.60" stroke="#3aa8de" stroke-width="1.2"/>
<text x="194.6" y="189.2" font-size="10" font-weight="bold" fill="#000">E</text>
<line x1="253.00" y1="202.20" x2="253.00" y2="300.20" stroke="#2b2b2b" stroke-width="0.9"/>
<line x1="253.00" y1="300.20" x2="301.80" y2="300.20" stroke="#2b2b2b" stroke-width="0.9"/>
<rect x="253.60" y="202.40" width="36.10" height="5.80" fill="#a7bb82" stroke="#d3e2ba" stroke-width="0.5"/>
<line x1="250.40" y1="205.30" x2="253.00" y2="205.30" stroke="#2b2b2b" stroke-width="0.8"/>
<text x="247.20" y="207.71" font-size="6.7" text-anchor="end" fill="#333333" stroke="#333333" stroke-width="0.05" textLength="22.50" lengthAdjust="spacingAndGlyphs">ETV7(+)</text>
<rect x="253.60" y="208.85" width="31.40" height="5.80" fill="#a7bb82" stroke="#d3e2ba" stroke-width="0.5"/>
<line x1="250.40" y1="211.75" x2="253.00" y2="211.75" stroke="#2b2b2b" stroke-width="0.8"/>
<text x="247.20" y="214.16" font-size="6.7" text-anchor="end" fill="#333333" stroke="#333333" stroke-width="0.05" textLength="22.50" lengthAdjust="spacingAndGlyphs">ETV6(+)</text>
<rect x="253.60" y="215.30" width="26.60" height="5.80" fill="#a7bb82" stroke="#d3e2ba" stroke-width="0.5"/>
<line x1="250.40" y1="218.20" x2="253.00" y2="218.20" stroke="#2b2b2b" stroke-width="0.8"/>
<text x="247.20" y="220.61" font-size="6.7" text-anchor="end" fill="#d3204c" stroke="#d3204c" stroke-width="0.05" textLength="24.50" lengthAdjust="spacingAndGlyphs">STAT1(+)</text>
<rect x="253.60" y="221.75" width="24.50" height="5.80" fill="#a7bb82" stroke="#d3e2ba" stroke-width="0.5"/>
<line x1="250.40" y1="224.65" x2="253.00" y2="224.65" stroke="#2b2b2b" stroke-width="0.8"/>
<text x="247.20" y="227.06" font-size="6.7" text-anchor="end" fill="#333333" stroke="#333333" stroke-width="0.05" textLength="21.50" lengthAdjust="spacingAndGlyphs">E2F6(+)</text>
<rect x="253.60" y="228.20" width="24.00" height="5.80" fill="#a7bb82" stroke="#d3e2ba" stroke-width="0.5"/>
<line x1="250.40" y1="231.10" x2="253.00" y2="231.10" stroke="#2b2b2b" stroke-width="0.8"/>
<text x="247.20" y="233.51" font-size="6.7" text-anchor="end" fill="#333333" stroke="#333333" stroke-width="0.05" textLength="27.00" lengthAdjust="spacingAndGlyphs">GABPA(+)</text>
<rect x="253.60" y="234.65" width="23.50" height="5.80" fill="#a7bb82" stroke="#d3e2ba" stroke-width="0.5"/>
<line x1="250.40" y1="237.55" x2="253.00" y2="237.55" stroke="#2b2b2b" stroke-width="0.8"/>
<text x="247.20" y="239.96" font-size="6.7" text-anchor="end" fill="#333333" stroke="#333333" stroke-width="0.05" textLength="26.50" lengthAdjust="spacingAndGlyphs">CEBPA(+)</text>
<rect x="253.60" y="241.10" width="22.20" height="5.80" fill="#a7bb82" stroke="#d3e2ba" stroke-width="0.5"/>
<line x1="250.40" y1="244.00" x2="253.00" y2="244.00" stroke="#2b2b2b" stroke-width="0.8"/>
<text x="247.20" y="246.41" font-size="6.7" text-anchor="end" fill="#333333" stroke="#333333" stroke-width="0.05" textLength="22.50" lengthAdjust="spacingAndGlyphs">BATF(+)</text>
<rect x="253.60" y="247.55" width="21.40" height="5.80" fill="#a7bb82" stroke="#d3e2ba" stroke-width="0.5"/>
<line x1="250.40" y1="250.45" x2="253.00" y2="250.45" stroke="#2b2b2b" stroke-width="0.8"/>
<text x="247.20" y="252.86" font-size="6.7" text-anchor="end" fill="#333333" stroke="#333333" stroke-width="0.05" textLength="29.60" lengthAdjust="spacingAndGlyphs">ZNF580(+)</text>
<rect x="253.60" y="254.00" width="20.50" height="5.80" fill="#a7bb82" stroke="#d3e2ba" stroke-width="0.5"/>
<line x1="250.40" y1="256.90" x2="253.00" y2="256.90" stroke="#2b2b2b" stroke-width="0.8"/>
<text x="247.20" y="259.31" font-size="6.7" text-anchor="end" fill="#d3204c" stroke="#d3204c" stroke-width="0.05" textLength="22.50" lengthAdjust="spacingAndGlyphs">IKZF3(+)</text>
<rect x="253.60" y="260.45" width="15.80" height="5.80" fill="#a7bb82" stroke="#d3e2ba" stroke-width="0.5"/>
<line x1="250.40" y1="263.35" x2="253.00" y2="263.35" stroke="#2b2b2b" stroke-width="0.8"/>
<text x="247.20" y="265.76" font-size="6.7" text-anchor="end" fill="#333333" stroke="#333333" stroke-width="0.05" textLength="21.00" lengthAdjust="spacingAndGlyphs">NFIA(+)</text>
<rect x="253.60" y="266.90" width="14.40" height="5.80" fill="#a7bb82" stroke="#d3e2ba" stroke-width="0.5"/>
<line x1="250.40" y1="269.80" x2="253.00" y2="269.80" stroke="#2b2b2b" stroke-width="0.8"/>
<text x="247.20" y="272.21" font-size="6.7" text-anchor="end" fill="#d3204c" stroke="#d3204c" stroke-width="0.05" textLength="18.50" lengthAdjust="spacingAndGlyphs">MAF(+)</text>
<rect x="253.60" y="273.35" width="13.80" height="5.80" fill="#a7bb82" stroke="#d3e2ba" stroke-width="0.5"/>
<line x1="250.40" y1="276.25" x2="253.00" y2="276.25" stroke="#2b2b2b" stroke-width="0.8"/>
<text x="247.20" y="278.66" font-size="6.7" text-anchor="end" fill="#333333" stroke="#333333" stroke-width="0.05" textLength="22.00" lengthAdjust="spacingAndGlyphs">XBP1(+)</text>
<rect x="253.60" y="279.80" width="13.40" height="5.80" fill="#a7bb82" stroke="#d3e2ba" stroke-width="0.5"/>
<line x1="250.40" y1="282.70" x2="253.00" y2="282.70" stroke="#2b2b2b" stroke-width="0.8"/>
<text x="247.20" y="285.11" font-size="6.7" text-anchor="end" fill="#333333" stroke="#333333" stroke-width="0.05" textLength="24.00" lengthAdjust="spacingAndGlyphs">CREM(+)</text>
<rect x="253.60" y="286.25" width="12.90" height="5.80" fill="#a7bb82" stroke="#d3e2ba" stroke-width="0.5"/>
<line x1="250.40" y1="289.15" x2="253.00" y2="289.15" stroke="#2b2b2b" stroke-width="0.8"/>
<text x="247.20" y="291.56" font-size="6.7" text-anchor="end" fill="#333333" stroke="#333333" stroke-width="0.05" textLength="17.50" lengthAdjust="spacingAndGlyphs">YY1(+)</text>
<rect x="253.60" y="292.70" width="11.10" height="5.80" fill="#a7bb82" stroke="#d3e2ba" stroke-width="0.5"/>
<line x1="250.40" y1="295.60" x2="253.00" y2="295.60" stroke="#2b2b2b" stroke-width="0.8"/>
<text x="247.20" y="298.01" font-size="6.7" text-anchor="end" fill="#333333" stroke="#333333" stroke-width="0.05" textLength="29.60" lengthAdjust="spacingAndGlyphs">ARID3A(+)</text>
<line x1="255.40" y1="300.20" x2="255.40" y2="302.70" stroke="#2b2b2b" stroke-width="0.8"/>
<text x="255.40" y="311.81" font-size="6.7" text-anchor="middle" fill="#333333" stroke="#333333" stroke-width="0.05">0.50</text>
<line x1="278.20" y1="300.20" x2="278.20" y2="302.70" stroke="#2b2b2b" stroke-width="0.8"/>
<text x="278.20" y="311.81" font-size="6.7" text-anchor="middle" fill="#333333" stroke="#333333" stroke-width="0.05">0.75</text>
<line x1="301.00" y1="300.20" x2="301.00" y2="302.70" stroke="#2b2b2b" stroke-width="0.8"/>
<text x="301.00" y="311.81" font-size="6.7" text-anchor="middle" fill="#333333" stroke="#333333" stroke-width="0.05">1.00</text>
<text x="277.80" y="323.42" font-size="8.1" text-anchor="middle" fill="#333333" stroke="#333333" stroke-width="0.05" textLength="48.40" lengthAdjust="spacingAndGlyphs">Relative regulon</text>
<text x="277.70" y="333.12" font-size="8.1" text-anchor="middle" fill="#333333" stroke="#333333" stroke-width="0.05" textLength="24.60" lengthAdjust="spacingAndGlyphs">activities</text>
<text x="209.00" y="255.42" font-size="8.1" text-anchor="middle" fill="#333333" stroke="#333333" stroke-width="0.05" textLength="31.90" lengthAdjust="spacingAndGlyphs" transform="rotate(-90 209.00 252.50)">Regulons</text>
<text x="332.8" y="189.4" font-size="10" font-weight="bold" fill="#000">F</text>
<line x1="363.30" y1="204.20" x2="363.30" y2="284.70" stroke="#2b2b2b" stroke-width="0.9"/>
<line x1="363.30" y1="284.70" x2="513.30" y2="284.70" stroke="#2b2b2b" stroke-width="0.9"/>
<line x1="360.70" y1="207.10" x2="363.30" y2="207.10" stroke="#2b2b2b" stroke-width="0.8"/>
<text x="357.60" y="209.51" font-size="6.7" text-anchor="end" fill="#333333" stroke="#333333" stroke-width="0.05" textLength="12.40" lengthAdjust="spacingAndGlyphs">0.08</text>
<line x1="360.70" y1="223.60" x2="363.30" y2="223.60" stroke="#2b2b2b" stroke-width="0.8"/>
<text x="357.60" y="226.01" font-size="6.7" text-anchor="end" fill="#333333" stroke="#333333" stroke-width="0.05" textLength="12.40" lengthAdjust="spacingAndGlyphs">0.07</text>
<line x1="360.70" y1="240.10" x2="363.30" y2="240.10" stroke="#2b2b2b" stroke-width="0.8"/>
<text x="357.60" y="242.51" font-size="6.7" text-anchor="end" fill="#333333" stroke="#333333" stroke-width="0.05" textLength="12.40" lengthAdjust="spacingAndGlyphs">0.06</text>
<line x1="360.70" y1="256.60" x2="363.30" y2="256.60" stroke="#2b2b2b" stroke-width="0.8"/>
<text x="357.60" y="259.01" font-size="6.7" text-anchor="end" fill="#333333" stroke="#333333" stroke-width="0.05" textLength="12.40" lengthAdjust="spacingAndGlyphs">0.05</text>
<line x1="360.70" y1="273.10" x2="363.30" y2="273.10" stroke="#2b2b2b" stroke-width="0.8"/>
<text x="357.60" y="275.51" font-size="6.7" text-anchor="end" fill="#333333" stroke="#333333" stroke-width="0.05" textLength="12.40" lengthAdjust="spacingAndGlyphs">0.04</text>
<text x="337.30" y="247.71" font-size="8.64" text-anchor="middle" fill="#333333" stroke="#333333" stroke-width="0.05" textLength="16.50" lengthAdjust="spacingAndGlyphs" transform="rotate(-90 337.30 244.60)">STAT1</text>
<line x1="371.50" y1="233.80" x2="371.50" y2="275.50" stroke="#555" stroke-width="0.9"/>
<rect x="366.50" y="249.80" width="10.00" height="10.20" fill="#3db1ea"/>
<line x1="366.50" y1="255.00" x2="376.50" y2="255.00" stroke="#1a1a1a" stroke-width="1.2" stroke-opacity="0.85"/>
<line x1="371.50" y1="284.70" x2="371.50" y2="287.20" stroke="#2b2b2b" stroke-width="0.8"/>
<text x="0" y="0" font-size="6.8" fill="#333" stroke="#333" stroke-width="0.12" text-anchor="end" textLength="20.6" lengthAdjust="spacingAndGlyphs" transform="translate(372.70 294.40) rotate(-45)">pre-Tfh</text>
<line x1="384.85" y1="221.90" x2="384.85" y2="265.20" stroke="#555" stroke-width="0.9"/>
<rect x="379.85" y="238.30" width="10.00" height="10.50" fill="#1b4f8b"/>
<line x1="379.85" y1="243.50" x2="389.85" y2="243.50" stroke="#1a1a1a" stroke-width="1.2" stroke-opacity="0.85"/>
<line x1="384.85" y1="284.70" x2="384.85" y2="287.20" stroke="#2b2b2b" stroke-width="0.8"/>
<text x="0" y="0" font-size="6.8" fill="#333" stroke="#333" stroke-width="0.12" text-anchor="end" textLength="49.3" lengthAdjust="spacingAndGlyphs" transform="translate(386.05 294.40) rotate(-45)">IL21<tspan font-size="75%" baseline-shift="super">+</tspan>CXCL13<tspan font-size="75%" baseline-shift="super">+</tspan> Th</text>
<line x1="398.20" y1="214.60" x2="398.20" y2="255.60" stroke="#555" stroke-width="0.9"/>
<rect x="393.20" y="230.00" width="10.00" height="10.20" fill="#3aab36"/>
<line x1="393.20" y1="235.00" x2="403.20" y2="235.00" stroke="#1a1a1a" stroke-width="1.2" stroke-opacity="0.85"/>
<line x1="398.20" y1="284.70" x2="398.20" y2="287.20" stroke="#2b2b2b" stroke-width="0.8"/>
<text x="0" y="0" font-size="6.8" fill="#333" stroke="#333" stroke-width="0.12" text-anchor="end" textLength="39.0" lengthAdjust="spacingAndGlyphs" transform="translate(399.40 294.40) rotate(-45)">IL21<tspan font-size="75%" baseline-shift="super">+</tspan>IRF4<tspan font-size="75%" baseline-shift="super">+</tspan> Th</text>
<line x1="411.55" y1="219.80" x2="411.55" y2="267.00" stroke="#555" stroke-width="0.9"/>
<rect x="406.55" y="237.70" width="10.00" height="11.90" fill="#106c4f"/>
<line x1="406.55" y1="243.80" x2="416.55" y2="243.80" stroke="#1a1a1a" stroke-width="1.2" stroke-opacity="0.85"/>
<line x1="411.55" y1="284.70" x2="411.55" y2="287.20" stroke="#2b2b2b" stroke-width="0.8"/>
<text x="0" y="0" font-size="6.8" fill="#333" stroke="#333" stroke-width="0.12" text-anchor="end" textLength="46.5" lengthAdjust="spacingAndGlyphs" transform="translate(412.75 294.40) rotate(-45)">IL21<tspan font-size="75%" baseline-shift="super">+</tspan>CXCR6<tspan font-size="75%" baseline-shift="super">+</tspan> Th</text>
<line x1="424.90" y1="214.00" x2="424.90" y2="257.30" stroke="#555" stroke-width="0.9"/>
<rect x="419.90" y="230.40" width="10.00" height="11.10" fill="#f7941e"/>
<line x1="419.90" y1="235.80" x2="429.90" y2="235.80" stroke="#1a1a1a" stroke-width="1.2" stroke-opacity="0.85"/>
<line x1="424.90" y1="284.70" x2="424.90" y2="287.20" stroke="#2b2b2b" stroke-width="0.8"/>
<text x="0" y="0" font-size="6.8" fill="#333" stroke="#333" stroke-width="0.12" text-anchor="end" textLength="42.7" lengthAdjust="spacingAndGlyphs" transform="translate(426.10 294.40) rotate(-45)">IL21<tspan font-size="75%" baseline-shift="super">+</tspan>IL2RA<tspan font-size="75%" baseline-shift="super">+</tspan> Th</text>
<line x1="438.25" y1="217.90" x2="438.25" y2="270.40" stroke="#555" stroke-width="0.9"/>
<rect x="433.25" y="237.10" width="10.00" height="13.50" fill="#c9112f"/>
<line x1="433.25" y1="243.80" x2="443.25" y2="243.80" stroke="#1a1a1a" stroke-width="1.2" stroke-opacity="0.85"/>
<line x1="438.25" y1="284.70" x2="438.25" y2="287.20" stroke="#2b2b2b" stroke-width="0.8"/>
<text x="0" y="0" font-size="6.8" fill="#333" stroke="#333" stroke-width="0.12" text-anchor="end" textLength="38.6" lengthAdjust="spacingAndGlyphs" transform="translate(439.45 294.40) rotate(-45)">IL21<tspan font-size="75%" baseline-shift="super">+</tspan>TNF<tspan font-size="75%" baseline-shift="super">+</tspan> Th</text>
<line x1="451.60" y1="239.00" x2="451.60" y2="279.40" stroke="#555" stroke-width="0.9"/>
<rect x="446.60" y="255.00" width="10.00" height="10.00" fill="#c97c28"/>
<line x1="446.60" y1="259.60" x2="456.60" y2="259.60" stroke="#1a1a1a" stroke-width="1.2" stroke-opacity="0.85"/>
<line x1="451.60" y1="284.70" x2="451.60" y2="287.20" stroke="#2b2b2b" stroke-width="0.8"/>
<text x="0" y="0" font-size="6.8" fill="#333" stroke="#333" stroke-width="0.12" text-anchor="end" textLength="7.4" lengthAdjust="spacingAndGlyphs" transform="translate(452.80 294.40) rotate(-45)">Tn</text>
<line x1="464.95" y1="242.00" x2="464.95" y2="278.50" stroke="#555" stroke-width="0.9"/>
<rect x="459.95" y="256.00" width="10.00" height="9.40" fill="#7b4518"/>
<line x1="459.95" y1="261.20" x2="469.95" y2="261.20" stroke="#1a1a1a" stroke-width="1.2" stroke-opacity="0.85"/>
<line x1="464.95" y1="284.70" x2="464.95" y2="287.20" stroke="#2b2b2b" stroke-width="0.8"/>
<text x="0" y="0" font-size="6.8" fill="#333" stroke="#333" stroke-width="0.12" text-anchor="end" textLength="34.8" lengthAdjust="spacingAndGlyphs" transform="translate(466.15 294.40) rotate(-45)">GZMK<tspan font-size="75%" baseline-shift="super">+</tspan> Tem</text>
<line x1="478.30" y1="224.20" x2="478.30" y2="275.60" stroke="#555" stroke-width="0.9"/>
<rect x="473.30" y="245.40" width="10.00" height="13.80" fill="#5d1f71"/>
<line x1="473.30" y1="252.50" x2="483.30" y2="252.50" stroke="#1a1a1a" stroke-width="1.2" stroke-opacity="0.85"/>
<line x1="478.30" y1="284.70" x2="478.30" y2="287.20" stroke="#2b2b2b" stroke-width="0.8"/>
<text x="0" y="0" font-size="6.8" fill="#333" stroke="#333" stroke-width="0.12" text-anchor="end" textLength="35.8" lengthAdjust="spacingAndGlyphs" transform="translate(479.50 294.40) rotate(-45)">PDCD1<tspan font-size="75%" baseline-shift="super">+</tspan> Teff</text>
<line x1="491.65" y1="216.90" x2="491.65" y2="272.30" stroke="#555" stroke-width="0.9"/>
<rect x="486.65" y="239.60" width="10.00" height="14.40" fill="#fdbf12"/>
<line x1="486.65" y1="247.10" x2="496.65" y2="247.10" stroke="#1a1a1a" stroke-width="1.2" stroke-opacity="0.85"/>
<line x1="491.65" y1="284.70" x2="491.65" y2="287.20" stroke="#2b2b2b" stroke-width="0.8"/>
<text x="0" y="0" font-size="6.8" fill="#333" stroke="#333" stroke-width="0.12" text-anchor="end" textLength="18.2" lengthAdjust="spacingAndGlyphs" transform="translate(492.85 294.40) rotate(-45)">ISG<tspan font-size="75%" baseline-shift="super">+</tspan> T</text>
<line x1="505.00" y1="232.00" x2="505.00" y2="275.90" stroke="#555" stroke-width="0.9"/>
<rect x="500.00" y="249.10" width="10.00" height="10.90" fill="#e8187e"/>
<line x1="500.00" y1="254.60" x2="510.00" y2="254.60" stroke="#1a1a1a" stroke-width="1.2" stroke-opacity="0.85"/>
<line x1="505.00" y1="284.70" x2="505.00" y2="287.20" stroke="#2b2b2b" stroke-width="0.8"/>
<text x="0" y="0" font-size="6.8" fill="#333" stroke="#333" stroke-width="0.12" text-anchor="end" textLength="38.6" lengthAdjust="spacingAndGlyphs" transform="translate(506.20 294.40) rotate(-45)">FOXP3<tspan font-size="75%" baseline-shift="super">+</tspan> Treg</text>
<text x="30.4" y="357.8" font-size="10" font-weight="bold" fill="#000">G</text>
<line x1="109.20" y1="420.40" x2="109.40" y2="364.40" stroke="#a9a9b4" stroke-width="0.7"/>
<line x1="109.20" y1="420.40" x2="131.20" y2="368.50" stroke="#a9a9b4" stroke-width="0.7"/>
<line x1="109.20" y1="420.40" x2="86.30" y2="368.80" stroke="#c6c8d8" stroke-width="1.3" stroke-dasharray="2.0,2.0"/>
<line x1="109.20" y1="420.40" x2="67.10" y2="380.80" stroke="#a9a9b4" stroke-width="0.7"/>
<line x1="109.20" y1="420.40" x2="54.60" y2="399.00" stroke="#a9a9b4" stroke-width="0.7"/>
<line x1="109.20" y1="420.40" x2="50.40" y2="420.40" stroke="#c6c8d8" stroke-width="1.3" stroke-dasharray="2.0,2.0"/>
<line x1="109.20" y1="420.40" x2="54.60" y2="442.80" stroke="#a9a9b4" stroke-width="0.7"/>
<line x1="109.20" y1="420.40" x2="68.50" y2="460.80" stroke="#a9a9b4" stroke-width="0.7"/>
<line x1="109.20" y1="420.40" x2="87.70" y2="473.00" stroke="#c6c8d8" stroke-width="1.3" stroke-dasharray="2.0,2.0"/>
<line x1="109.20" y1="420.40" x2="109.20" y2="477.00" stroke="#a9a9b4" stroke-width="0.7"/>
<line x1="109.20" y1="420.40" x2="133.00" y2="472.60" stroke="#a9a9b4" stroke-width="0.7"/>
<line x1="109.20" y1="420.40" x2="152.30" y2="460.30" stroke="#a9a9b4" stroke-width="0.7"/>
<line x1="109.20" y1="420.40" x2="163.00" y2="442.80" stroke="#a9a9b4" stroke-width="0.7"/>
<line x1="109.20" y1="420.40" x2="150.40" y2="380.40" stroke="#c6c8d8" stroke-width="1.3" stroke-dasharray="2.0,2.0"/>
<line x1="109.20" y1="420.40" x2="163.00" y2="399.20" stroke="#a9a9b4" stroke-width="0.7"/>
<line x1="109.20" y1="420.40" x2="167.70" y2="420.40" stroke="#a9a9b4" stroke-width="0.7"/>
<circle cx="109.40" cy="364.40" r="3.40" fill="#bfc4e7"/>
<circle cx="131.20" cy="368.50" r="3.40" fill="#bfc4e7"/>
<circle cx="86.30" cy="368.80" r="3.40" fill="#bfc4e7"/>
<circle cx="67.10" cy="380.80" r="3.40" fill="#bfc4e7"/>
<circle cx="54.60" cy="399.00" r="3.40" fill="#bfc4e7"/>
<circle cx="50.40" cy="420.40" r="3.40" fill="#bfc4e7"/>
<circle cx="54.60" cy="442.80" r="3.40" fill="#bfc4e7"/>
<circle cx="68.50" cy="460.80" r="3.40" fill="#bfc4e7"/>
<circle cx="87.70" cy="473.00" r="3.40" fill="#bfc4e7"/>
<circle cx="109.20" cy="477.00" r="3.40" fill="#bfc4e7"/>
<circle cx="133.00" cy="472.60" r="3.40" fill="#bfc4e7"/>
<circle cx="152.30" cy="460.30" r="3.40" fill="#bfc4e7"/>
<circle cx="163.00" cy="442.80" r="3.40" fill="#e2bfcd"/>
<circle cx="150.40" cy="380.40" r="7.70" fill="none" stroke="#f3c45a" stroke-width="1.3"/>
<circle cx="150.40" cy="380.40" r="6.90" fill="#4b54a4" stroke="#2d2f6a" stroke-width="0.7"/>
<circle cx="163.00" cy="399.20" r="6.10" fill="none" stroke="#f3c45a" stroke-width="1.3"/>
<circle cx="163.00" cy="399.20" r="5.30" fill="#4b54a4" stroke="#2d2f6a" stroke-width="0.7"/>
<circle cx="167.70" cy="420.40" r="7.10" fill="none" stroke="#f3c45a" stroke-width="1.3"/>
<circle cx="167.70" cy="420.40" r="6.30" fill="#4b54a4" stroke="#2d2f6a" stroke-width="0.7"/>
<circle cx="109.20" cy="420.40" r="8.10" fill="none" stroke="#f3c45a" stroke-width="1.4"/>
<circle cx="109.20" cy="420.40" r="7.30" fill="#4b54a4" stroke="#2d2f6a" stroke-width="0.7"/>
<text x="109.40" y="366.89" font-size="6.91" text-anchor="middle" fill="#333340" stroke="#333340" stroke-width="0.05" textLength="12.20" lengthAdjust="spacingAndGlyphs">IL6R</text>
<text x="131.20" y="370.99" font-size="6.91" text-anchor="middle" fill="#333340" stroke="#333340" stroke-width="0.05" textLength="15.40" lengthAdjust="spacingAndGlyphs">JAK3</text>
<text x="86.30" y="371.29" font-size="6.91" text-anchor="middle" fill="#333340" stroke="#333340" stroke-width="0.05" textLength="20.20" lengthAdjust="spacingAndGlyphs">SOCS3</text>
<text x="67.10" y="383.29" font-size="6.91" text-anchor="middle" fill="#333340" stroke="#333340" stroke-width="0.05" textLength="23.10" lengthAdjust="spacingAndGlyphs">PTPN11</text>
<text x="54.60" y="401.49" font-size="6.91" text-anchor="middle" fill="#333340" stroke="#333340" stroke-width="0.05" textLength="17.30" lengthAdjust="spacingAndGlyphs">STAT4</text>
<text x="50.40" y="422.89" font-size="6.91" text-anchor="middle" fill="#333340" stroke="#333340" stroke-width="0.05" textLength="15.40" lengthAdjust="spacingAndGlyphs">IL21R</text>
<text x="54.60" y="445.29" font-size="6.91" text-anchor="middle" fill="#333340" stroke="#333340" stroke-width="0.05" textLength="11.60" lengthAdjust="spacingAndGlyphs">CBL</text>
<text x="68.50" y="463.29" font-size="6.91" text-anchor="middle" fill="#333340" stroke="#333340" stroke-width="0.05" textLength="14.60" lengthAdjust="spacingAndGlyphs">JAK1</text>
<text x="87.70" y="475.49" font-size="6.91" text-anchor="middle" fill="#333340" stroke="#333340" stroke-width="0.05" textLength="14.80" lengthAdjust="spacingAndGlyphs">JAK2</text>
<text x="109.20" y="479.49" font-size="6.91" text-anchor="middle" fill="#333340" stroke="#333340" stroke-width="0.05" textLength="14.60" lengthAdjust="spacingAndGlyphs">TYK2</text>
<text x="133.00" y="475.09" font-size="6.91" text-anchor="middle" fill="#333340" stroke="#333340" stroke-width="0.05" textLength="22.00" lengthAdjust="spacingAndGlyphs">STAT5B</text>
<text x="152.30" y="462.79" font-size="6.91" text-anchor="middle" fill="#333340" stroke="#333340" stroke-width="0.05" textLength="21.90" lengthAdjust="spacingAndGlyphs">STAT5A</text>
<text x="163.00" y="445.29" font-size="6.91" text-anchor="middle" fill="#333340" stroke="#333340" stroke-width="0.05" textLength="17.40" lengthAdjust="spacingAndGlyphs">IL2RG</text>
<text x="150.40" y="382.65" font-size="6.26" text-anchor="middle" fill="#2a2a55" stroke="#2a2a55" stroke-width="0.05" textLength="10.00" lengthAdjust="spacingAndGlyphs">IL21</text>
<text x="163.00" y="401.61" font-size="6.7" text-anchor="middle" fill="#1e1e3a" stroke="#1e1e3a" stroke-width="0.05" textLength="17.00" lengthAdjust="spacingAndGlyphs">STAT3</text>
<text x="167.70" y="422.81" font-size="6.7" text-anchor="middle" fill="#1e1e3a" stroke="#1e1e3a" stroke-width="0.05" textLength="15.00" lengthAdjust="spacingAndGlyphs">IL6ST</text>
<text x="109.20" y="422.81" font-size="6.7" text-anchor="middle" fill="#1e1e3a" stroke="#1e1e3a" stroke-width="0.05" textLength="17.00" lengthAdjust="spacingAndGlyphs">STAT1</text>
<text x="190.80" y="369.05" font-size="6.8" fill="#333333" stroke="#333333" stroke-width="0.05" textLength="20.00" lengthAdjust="spacingAndGlyphs">log<tspan font-size="65%" baseline-shift="sub">2</tspan>FC</text>
<rect x="191.20" y="376.50" width="6.60" height="31.80" fill="url(#rdbu)"/>
<text x="200.20" y="379.33" font-size="6.48" fill="#333333" stroke="#333333" stroke-width="0.05">0.2</text>
<text x="200.20" y="386.83" font-size="6.48" fill="#333333" stroke="#333333" stroke-width="0.05">0.1</text>
<text x="200.20" y="394.33" font-size="6.48" fill="#333333" stroke="#333333" stroke-width="0.05">0.0</text>
<text x="200.20" y="401.83" font-size="6.48" fill="#333333" stroke="#333333" stroke-width="0.05">−0.1</text>
<text x="200.20" y="409.33" font-size="6.48" fill="#333333" stroke="#333333" stroke-width="0.05">−0.2</text>
<text x="191.00" y="426.05" font-size="6.8" fill="#333333" stroke="#333333" stroke-width="0.05" textLength="33.60" lengthAdjust="spacingAndGlyphs">−log<tspan font-size="65%" baseline-shift="sub">10</tspan>(FDR)</text>
<circle cx="198.20" cy="433.70" r="3.00" fill="none" stroke="#444" stroke-width="0.65"/>
<text x="208.40" y="436.15" font-size="6.8" fill="#333333" stroke="#333333" stroke-width="0.05">0</text>
<circle cx="198.20" cy="442.50" r="4.80" fill="none" stroke="#444" stroke-width="0.65"/>
<text x="208.40" y="444.95" font-size="6.8" fill="#333333" stroke="#333333" stroke-width="0.05">5</text>
<circle cx="198.20" cy="456.00" r="6.50" fill="none" stroke="#444" stroke-width="0.65"/>
<text x="208.40" y="458.45" font-size="6.8" fill="#333333" stroke="#333333" stroke-width="0.05">10</text>
<circle cx="198.20" cy="471.50" r="7.30" fill="none" stroke="#444" stroke-width="0.65"/>
<text x="208.40" y="473.95" font-size="6.8" fill="#333333" stroke="#333333" stroke-width="0.05">15</text>
<text x="240.4" y="357.8" font-size="10" font-weight="bold" fill="#000">H</text>
<line x1="270.80" y1="381.30" x2="270.80" y2="459.40" stroke="#2b2b2b" stroke-width="0.9"/>
<line x1="270.80" y1="459.40" x2="321.30" y2="459.40" stroke="#2b2b2b" stroke-width="0.9"/>
<line x1="268.20" y1="453.70" x2="270.80" y2="453.70" stroke="#2b2b2b" stroke-width="0.8"/>
<text x="263.80" y="456.11" font-size="6.7" text-anchor="middle" fill="#333333" stroke="#333333" stroke-width="0.05" transform="rotate(-90 263.80 453.70)">0</text>
<line x1="268.20" y1="435.10" x2="270.80" y2="435.10" stroke="#2b2b2b" stroke-width="0.8"/>
<text x="263.80" y="437.51" font-size="6.7" text-anchor="middle" fill="#333333" stroke="#333333" stroke-width="0.05" transform="rotate(-90 263.80 435.10)">2</text>
<line x1="268.20" y1="416.50" x2="270.80" y2="416.50" stroke="#2b2b2b" stroke-width="0.8"/>
<text x="263.80" y="418.91" font-size="6.7" text-anchor="middle" fill="#333333" stroke="#333333" stroke-width="0.05" transform="rotate(-90 263.80 416.50)">4</text>
<line x1="268.20" y1="397.90" x2="270.80" y2="397.90" stroke="#2b2b2b" stroke-width="0.8"/>
<text x="263.80" y="400.31" font-size="6.7" text-anchor="middle" fill="#333333" stroke="#333333" stroke-width="0.05" transform="rotate(-90 263.80 397.90)">6</text>
<text x="254.40" y="422.80" font-size="7.78" text-anchor="middle" fill="#333333" stroke="#333333" stroke-width="0.05" textLength="72.50" lengthAdjust="spacingAndGlyphs" transform="rotate(-90 254.40 420.00)">Expression of HDAC core</text>
<text x="277" y="384.3" font-size="6.2" textLength="38.6" lengthAdjust="spacingAndGlyphs"><tspan font-style="italic">P</tspan> &lt; 2.22e−16</text>
<path d="M284.6,388.4 V386.2 H307.8 V388.4" stroke="#333" stroke-width="0.7" fill="none"/>
<line x1="284.60" y1="459.40" x2="284.60" y2="461.90" stroke="#2b2b2b" stroke-width="0.8"/>
<line x1="307.80" y1="459.40" x2="307.80" y2="461.90" stroke="#2b2b2b" stroke-width="0.8"/>
<rect x="274.60" y="449.00" width="20.40" height="6.30" fill="#111"/>
<circle cx="279.43" cy="451.85" r="1.20" fill="#111"/>
<circle cx="282.16" cy="452.33" r="1.20" fill="#111"/>
<circle cx="287.45" cy="448.02" r="1.20" fill="#111"/>
<circle cx="274.77" cy="454.20" r="1.20" fill="#111"/>
<circle cx="279.87" cy="449.37" r="1.20" fill="#111"/>
<circle cx="295.11" cy="451.26" r="1.20" fill="#111"/>
<circle cx="291.81" cy="451.31" r="1.20" fill="#111"/>
<circle cx="287.73" cy="448.70" r="1.20" fill="#111"/>
<circle cx="287.64" cy="454.44" r="1.20" fill="#111"/>
<circle cx="285.33" cy="453.43" r="1.20" fill="#111"/>
<circle cx="288.40" cy="448.01" r="1.20" fill="#111"/>
<circle cx="290.20" cy="452.23" r="1.20" fill="#111"/>
<circle cx="280.74" cy="447.75" r="1.20" fill="#111"/>
<circle cx="292.42" cy="451.28" r="1.20" fill="#111"/>
<circle cx="289.38" cy="454.53" r="1.20" fill="#111"/>
<circle cx="289.28" cy="454.87" r="1.20" fill="#111"/>
<circle cx="282.68" cy="453.91" r="1.20" fill="#111"/>
<circle cx="283.70" cy="454.98" r="1.20" fill="#111"/>
<circle cx="292.69" cy="448.28" r="1.20" fill="#111"/>
<circle cx="277.31" cy="449.24" r="1.20" fill="#111"/>
<circle cx="294.49" cy="450.99" r="1.20" fill="#111"/>
<circle cx="287.47" cy="449.91" r="1.20" fill="#111"/>
<circle cx="285.00" cy="450.59" r="1.20" fill="#111"/>
<circle cx="281.76" cy="452.18" r="1.20" fill="#111"/>
<circle cx="286.59" cy="454.73" r="1.20" fill="#111"/>
<circle cx="288.62" cy="454.93" r="1.20" fill="#111"/>
<circle cx="292.23" cy="455.43" r="1.20" fill="#111"/>
<circle cx="288.40" cy="448.80" r="1.20" fill="#111"/>
<circle cx="292.32" cy="455.22" r="1.20" fill="#111"/>
<circle cx="293.23" cy="452.05" r="1.20" fill="#111"/>
<circle cx="289.28" cy="449.19" r="1.20" fill="#111"/>
<circle cx="291.71" cy="452.09" r="1.20" fill="#111"/>
<circle cx="280.40" cy="448.01" r="1.20" fill="#111"/>
<circle cx="292.18" cy="455.42" r="1.20" fill="#111"/>
<circle cx="276.33" cy="453.90" r="1.20" fill="#111"/>
<circle cx="283.00" cy="448.71" r="1.20" fill="#111"/>
<circle cx="280.58" cy="453.65" r="1.20" fill="#111"/>
<circle cx="292.57" cy="447.85" r="1.20" fill="#111"/>
<circle cx="287.22" cy="447.86" r="1.20" fill="#111"/>
<circle cx="289.37" cy="450.15" r="1.20" fill="#111"/>
<circle cx="279.70" cy="447.20" r="1.20" fill="#111"/>
<circle cx="283.40" cy="443.20" r="1.20" fill="#111"/>
<circle cx="284.70" cy="439.80" r="1.20" fill="#111"/>
<circle cx="288.80" cy="436.60" r="1.20" fill="#111"/>
<circle cx="291.10" cy="433.60" r="1.20" fill="#111"/>
<circle cx="294.20" cy="446.00" r="1.20" fill="#111"/>
<line x1="307.90" y1="394.20" x2="307.90" y2="425.90" stroke="#333" stroke-width="0.8"/>
<line x1="307.90" y1="447.20" x2="307.90" y2="453.40" stroke="#333" stroke-width="0.8"/>
<rect x="299.20" y="425.90" width="17.80" height="21.30" fill="#c8102e"/>
<line x1="299.20" y1="435.40" x2="317.00" y2="435.40" stroke="#6a0a18" stroke-width="1.0"/>
<circle cx="306.70" cy="393.00" r="1.20" fill="#111"/>
<circle cx="299.00" cy="400.20" r="1.20" fill="#111"/>
<circle cx="315.60" cy="388.60" r="1.20" fill="#111"/>
<circle cx="316.20" cy="391.70" r="1.20" fill="#111"/>
<circle cx="317.10" cy="401.30" r="1.20" fill="#111"/>
<circle cx="304.20" cy="406.90" r="1.20" fill="#111"/>
<circle cx="300.20" cy="410.40" r="1.20" fill="#111"/>
<circle cx="308.20" cy="412.10" r="1.20" fill="#111"/>
<circle cx="301.60" cy="414.30" r="1.20" fill="#111"/>
<circle cx="302.20" cy="421.20" r="1.20" fill="#111"/>
<circle cx="305.00" cy="424.10" r="1.20" fill="#111"/>
<circle cx="300.60" cy="428.60" r="1.20" fill="#111"/>
<circle cx="302.30" cy="431.10" r="1.20" fill="#111"/>
<circle cx="305.20" cy="433.80" r="1.20" fill="#111"/>
<circle cx="309.90" cy="431.60" r="1.20" fill="#111"/>
<circle cx="313.70" cy="440.00" r="1.20" fill="#111"/>
<circle cx="306.50" cy="440.10" r="1.20" fill="#111"/>
<circle cx="299.60" cy="445.20" r="1.20" fill="#111"/>
<circle cx="303.80" cy="449.60" r="1.20" fill="#111"/>
<circle cx="300.10" cy="450.40" r="1.20" fill="#111"/>
<circle cx="310.00" cy="449.50" r="1.20" fill="#111"/>
<circle cx="312.90" cy="451.00" r="1.20" fill="#111"/>
<circle cx="317.00" cy="449.10" r="1.20" fill="#111"/>
<circle cx="301.40" cy="453.70" r="1.20" fill="#111"/>
<circle cx="305.60" cy="453.00" r="1.20" fill="#111"/>
<circle cx="309.20" cy="452.80" r="1.20" fill="#111"/>
<circle cx="316.10" cy="453.20" r="1.20" fill="#111"/>
<circle cx="318.20" cy="446.50" r="1.20" fill="#111"/>
<circle cx="307.50" cy="436.00" r="1.20" fill="#111"/>
<circle cx="311.00" cy="446.50" r="1.20" fill="#111"/>
<circle cx="303.00" cy="439.20" r="1.20" fill="#111"/>
<circle cx="299.80" cy="437.50" r="1.20" fill="#111"/>
<text x="0" y="0" font-size="7.0" fill="#333" stroke="#333" stroke-width="0.05" text-anchor="end" textLength="17.0" lengthAdjust="spacingAndGlyphs" transform="translate(284.80 468.20) rotate(-50)">CD30<tspan font-size="75%" baseline-shift="super">-</tspan></text>
<text x="0" y="0" font-size="7.0" fill="#333" stroke="#333" stroke-width="0.05" text-anchor="end" textLength="23.5" lengthAdjust="spacingAndGlyphs" transform="translate(290.60 473.80) rotate(-50)">HRS-like</text>
<text x="0" y="0" font-size="7.0" fill="#333" stroke="#333" stroke-width="0.05" text-anchor="end" textLength="17.0" lengthAdjust="spacingAndGlyphs" transform="translate(308.00 468.20) rotate(-50)">CD30<tspan font-size="75%" baseline-shift="super">+</tspan></text>
<text x="0" y="0" font-size="7.0" fill="#333" stroke="#333" stroke-width="0.05" text-anchor="end" textLength="23.5" lengthAdjust="spacingAndGlyphs" transform="translate(313.80 473.80) rotate(-50)">HRS-like</text>
<text x="377.6" y="357.8" font-size="10" font-weight="bold" fill="#000">I</text>
<text x="402.90" y="358.19" font-size="8.86" fill="#222" stroke="#222" stroke-width="0.05" textLength="75.00" lengthAdjust="spacingAndGlyphs">CD8<tspan font-size="75%" baseline-shift="super">+</tspan> T/NK cells --&gt;</text>
<text x="411.90" y="368.19" font-size="8.86" fill="#222" stroke="#222" stroke-width="0.05" textLength="56.90" lengthAdjust="spacingAndGlyphs">CD30<tspan font-size="75%" baseline-shift="super">−</tspan>HRS-like</text>
<line x1="413.80" y1="373.60" x2="413.80" y2="461.70" stroke="#2b2b2b" stroke-width="0.9"/>
<line x1="413.80" y1="461.70" x2="467.20" y2="461.70" stroke="#2b2b2b" stroke-width="0.9"/>
<rect x="416.30" y="376.40" width="48.80" height="10.00" fill="#e8877c"/>
<line x1="411.20" y1="381.40" x2="413.80" y2="381.40" stroke="#2b2b2b" stroke-width="0.8"/>
<text x="407.40" y="384.01" font-size="7.24" text-anchor="end" fill="#e6887b" stroke="#e6887b" stroke-width="0.12" textLength="70.00" lengthAdjust="spacingAndGlyphs">PGE2−PTGES3_PTGER4</text>
<rect x="416.30" y="390.60" width="48.80" height="10.00" fill="#8a94c0"/>
<rect x="416.30" y="390.60" width="2.30" height="10.00" fill="#e8877c"/>
<line x1="411.20" y1="395.60" x2="413.80" y2="395.60" stroke="#2b2b2b" stroke-width="0.8"/>
<text x="407.40" y="398.21" font-size="7.24" text-anchor="end" fill="#7f8cc2" stroke="#7f8cc2" stroke-width="0.12" textLength="43.60" lengthAdjust="spacingAndGlyphs">CD40LG_CD40</text>
<rect x="416.30" y="404.80" width="48.80" height="10.00" fill="#8a94c0"/>
<line x1="411.20" y1="409.80" x2="413.80" y2="409.80" stroke="#2b2b2b" stroke-width="0.8"/>
<text x="407.40" y="412.41" font-size="7.24" text-anchor="end" fill="#7f8cc2" stroke="#7f8cc2" stroke-width="0.12" textLength="29.30" lengthAdjust="spacingAndGlyphs">FASL_FAS</text>
<rect x="416.30" y="419.00" width="48.80" height="10.00" fill="#8a94c0"/>
<line x1="411.20" y1="424.00" x2="413.80" y2="424.00" stroke="#2b2b2b" stroke-width="0.8"/>
<text x="407.40" y="426.61" font-size="7.24" text-anchor="end" fill="#7f8cc2" stroke="#7f8cc2" stroke-width="0.12" textLength="45.60" lengthAdjust="spacingAndGlyphs">TNF_TNFRSF1B</text>
<rect x="416.30" y="433.20" width="48.80" height="10.00" fill="#8a94c0"/>
<line x1="411.20" y1="438.20" x2="413.80" y2="438.20" stroke="#2b2b2b" stroke-width="0.8"/>
<text x="407.40" y="440.81" font-size="7.24" text-anchor="end" fill="#7f8cc2" stroke="#7f8cc2" stroke-width="0.12" textLength="42.70" lengthAdjust="spacingAndGlyphs">LGALS9_CD44</text>
<rect x="416.30" y="447.40" width="48.80" height="10.00" fill="#8a94c0"/>
<line x1="411.20" y1="452.40" x2="413.80" y2="452.40" stroke="#2b2b2b" stroke-width="0.8"/>
<text x="407.40" y="455.01" font-size="7.24" text-anchor="end" fill="#7f8cc2" stroke="#7f8cc2" stroke-width="0.12" textLength="33.50" lengthAdjust="spacingAndGlyphs">FLT3L_FLT3</text>
<line x1="440.60" y1="375.00" x2="440.60" y2="459.00" stroke="#ffffff" stroke-width="0.7" stroke-dasharray="2.5,2.5" stroke-opacity="0.55"/>
<rect x="471.20" y="409.60" width="5.80" height="5.40" fill="#e8877c"/>
<text x="479.80" y="414.75" font-size="6.8" fill="#333333" stroke="#333333" stroke-width="0.05" textLength="10.50" lengthAdjust="spacingAndGlyphs">Pre</text>
<rect x="471.20" y="419.80" width="5.80" height="5.40" fill="#8a94c0"/>
<text x="479.80" y="424.95" font-size="6.8" fill="#333333" stroke="#333333" stroke-width="0.05" textLength="8.50" lengthAdjust="spacingAndGlyphs">On</text>
<line x1="415.70" y1="461.70" x2="415.70" y2="464.20" stroke="#2b2b2b" stroke-width="0.8"/>
<text x="415.70" y="475.69" font-size="6.91" text-anchor="middle" fill="#333333" stroke="#333333" stroke-width="0.05" textLength="12.60" lengthAdjust="spacingAndGlyphs" transform="rotate(-90 415.70 473.20)">0.00</text>
<line x1="428.20" y1="461.70" x2="428.20" y2="464.20" stroke="#2b2b2b" stroke-width="0.8"/>
<text x="428.20" y="475.69" font-size="6.91" text-anchor="middle" fill="#333333" stroke="#333333" stroke-width="0.05" textLength="12.60" lengthAdjust="spacingAndGlyphs" transform="rotate(-90 428.20 473.20)">0.25</text>
<line x1="440.40" y1="461.70" x2="440.40" y2="464.20" stroke="#2b2b2b" stroke-width="0.8"/>
<text x="440.40" y="475.69" font-size="6.91" text-anchor="middle" fill="#333333" stroke="#333333" stroke-width="0.05" textLength="12.60" lengthAdjust="spacingAndGlyphs" transform="rotate(-90 440.40 473.20)">0.50</text>
<line x1="452.70" y1="461.70" x2="452.70" y2="464.20" stroke="#2b2b2b" stroke-width="0.8"/>
<text x="452.70" y="475.69" font-size="6.91" text-anchor="middle" fill="#333333" stroke="#333333" stroke-width="0.05" textLength="12.60" lengthAdjust="spacingAndGlyphs" transform="rotate(-90 452.70 473.20)">0.75</text>
<line x1="464.70" y1="461.70" x2="464.70" y2="464.20" stroke="#2b2b2b" stroke-width="0.8"/>
<text x="464.70" y="475.69" font-size="6.91" text-anchor="middle" fill="#333333" stroke="#333333" stroke-width="0.05" textLength="12.60" lengthAdjust="spacingAndGlyphs" transform="rotate(-90 464.70 473.20)">1.00</text>
<text x="403.80" y="490.33" font-size="8.42" fill="#333333" stroke="#333333" stroke-width="0.05" textLength="73.90" lengthAdjust="spacingAndGlyphs">Relative information flow</text>
<text x="147.4" y="517.8" font-size="10" font-weight="bold" fill="#000">J</text>
<text x="171.70" y="518.11" font-size="8.64" fill="#222" stroke="#222" stroke-width="0.05" textLength="184.30" lengthAdjust="spacingAndGlyphs">FASL_FAS interactions between CD8<tspan font-size="75%" baseline-shift="super">+</tspan> T/NK cells</text>
<text x="208.80" y="527.81" font-size="8.64" fill="#222" stroke="#222" stroke-width="0.05" textLength="110.90" lengthAdjust="spacingAndGlyphs">and CD30<tspan font-size="75%" baseline-shift="super">+</tspan> HRS-like cells(On)</text>
<path d="M253.8,624.2 C258,614 274,600 291.5,584.5" stroke="#a898dc" stroke-width="4.0" fill="none" stroke-opacity="0.8" stroke-linecap="round"/>
<path d="M266,621.3 C268,610 281,595 291.8,584" stroke="#5a3a7e" stroke-width="4.0" fill="none" stroke-opacity="0.8" stroke-linecap="round"/>
<path d="M276.7,614.6 C277.5,604 286,592 292.3,583.5" stroke="#6c7a82" stroke-width="6.4" fill="none" stroke-opacity="0.78" stroke-linecap="round"/>
<path d="M276.5,550.2 C284,558 290,568 292.3,581" stroke="#e9a3a3" stroke-width="3.6" fill="none" stroke-opacity="0.8" stroke-linecap="round"/>
<path d="M285,559.8 C290,566 292,574 292.3,581" stroke="#4d6e66" stroke-width="5.2" fill="none" stroke-opacity="0.7" stroke-linecap="round"/>
<path d="M290.4,570.4 C291.5,574 292.2,578 292.3,581" stroke="#5ab4dc" stroke-width="3.6" fill="none" stroke-opacity="0.8" stroke-linecap="round"/>
<path d="M220.2,554.6 C245,558 270,562 290,580" stroke="#7fbf70" stroke-width="1.5" fill="none"/>
<path d="M213,565 C240,565 270,568 290,580.5" stroke="#779494" stroke-width="1.5" fill="none"/>
<path d="M209.2,576.7 C240,574 268,574 290,581.5" stroke="#7d5a40" stroke-width="1.5" fill="none"/>
<path d="M209.6,589.2 C235,584 262,581 290,582.3" stroke="#efb2aa" stroke-width="2.0" fill="none"/>
<path d="M213,601.2 C238,590 262,583 290,583" stroke="#cf4a5c" stroke-width="1.3" fill="none"/>
<path d="M285.3,579.6 L291.3,582.6 L285.3,585.6 Z" stroke="none" stroke-width="0" fill="#e08070"/>
<circle cx="229.80" cy="546.90" r="2.70" fill="#a5a5a5"/>
<circle cx="241.30" cy="542.50" r="2.70" fill="#1a3d6d"/>
<circle cx="253.80" cy="541.50" r="2.70" fill="#4eb3e3"/>
<circle cx="266.00" cy="544.00" r="2.70" fill="#a5183c"/>
<circle cx="276.50" cy="550.20" r="2.70" fill="#e9a3a3"/>
<circle cx="285.00" cy="559.80" r="2.70" fill="#1d5a48"/>
<circle cx="290.40" cy="570.40" r="2.70" fill="#5ab4dc"/>
<circle cx="292.30" cy="582.60" r="2.70" fill="#000000"/>
<circle cx="294.20" cy="595.40" r="2.70" fill="#e1106c"/>
<circle cx="288.80" cy="606.50" r="2.70" fill="#f2b12a"/>
<circle cx="276.70" cy="614.60" r="2.70" fill="#46575f"/>
<circle cx="266.00" cy="621.30" r="2.70" fill="#3a1858"/>
<circle cx="253.80" cy="624.40" r="2.70" fill="#a99ad8"/>
<circle cx="241.60" cy="623.80" r="2.70" fill="#c07a24"/>
<circle cx="229.50" cy="618.80" r="2.70" fill="#f2a233"/>
<circle cx="220.10" cy="610.80" r="2.70" fill="#ead8b0"/>
<circle cx="213.00" cy="601.20" r="2.70" fill="#c2183a"/>
<circle cx="209.60" cy="589.20" r="2.70" fill="#e6a59e"/>
<circle cx="209.20" cy="576.70" r="2.70" fill="#6a3e1e"/>
<circle cx="213.00" cy="565.00" r="2.70" fill="#1e5a50"/>
<circle cx="220.20" cy="554.60" r="2.70" fill="#3b9a3c"/>
<text x="202.80" y="542.97" font-size="7.13" fill="#cdcdcd" stroke="#cdcdcd" stroke-width="0.05" textLength="26.40" lengthAdjust="spacingAndGlyphs">early Teff</text>
<text x="230.80" y="538.57" font-size="7.13" fill="#cdcdcd" stroke="#cdcdcd" stroke-width="0.05" textLength="11.00" lengthAdjust="spacingAndGlyphs">Tcm</text>
<text x="250.80" y="538.57" font-size="7.13" fill="#bfd3e2" stroke="#bfd3e2" stroke-width="0.05" textLength="5.80" lengthAdjust="spacingAndGlyphs">Tn</text>
<text x="267.70" y="542.17" font-size="7.13" fill="#ebbcc4" stroke="#ebbcc4" stroke-width="0.05" textLength="22.50" lengthAdjust="spacingAndGlyphs">ISG<tspan font-size="75%" baseline-shift="super">+</tspan> NK</text>
<text x="281.50" y="550.47" font-size="7.13" fill="#efb3b3" stroke="#efb3b3" stroke-width="0.05" textLength="73.10" lengthAdjust="spacingAndGlyphs">CX3CR1<tspan font-size="75%" baseline-shift="super">+</tspan>CD56<tspan font-size="75%" baseline-shift="super">dim</tspan>CD16<tspan font-size="75%" baseline-shift="super">hi</tspan> NK</text>
<text x="289.20" y="558.77" font-size="7.13" fill="#1f6a5c" stroke="#1f6a5c" stroke-width="0.05" textLength="77.00" lengthAdjust="spacingAndGlyphs">CD160<tspan font-size="75%" baseline-shift="super">+</tspan>CD56<tspan font-size="75%" baseline-shift="super">dim</tspan>CD16<tspan font-size="75%" baseline-shift="super">hi</tspan> NK</text>
<text x="296.00" y="572.57" font-size="7.13" fill="#5ab4dc" stroke="#5ab4dc" stroke-width="0.05" textLength="58.60" lengthAdjust="spacingAndGlyphs">CD56<tspan font-size="75%" baseline-shift="super">bright</tspan>CD16<tspan font-size="75%" baseline-shift="super">lo</tspan> NK</text>
<text x="298.80" y="585.57" font-size="7.13" fill="#111" stroke="#111" stroke-width="0.05" textLength="43.90" lengthAdjust="spacingAndGlyphs">CD30<tspan font-size="75%" baseline-shift="super">-</tspan> HRS-like</text>
<text x="298.80" y="597.97" font-size="7.13" fill="#f5d3e0" stroke="#f5d3e0" stroke-width="0.05" textLength="18.20" lengthAdjust="spacingAndGlyphs">ISG<tspan font-size="75%" baseline-shift="super">+</tspan> T</text>
<text x="294.00" y="609.17" font-size="7.13" fill="#f1e4cc" stroke="#f1e4cc" stroke-width="0.05" textLength="25.60" lengthAdjust="spacingAndGlyphs">CD8<tspan font-size="75%" baseline-shift="super">+</tspan> Tfh</text>
<text x="283.00" y="619.57" font-size="7.13" fill="#2e3b40" stroke="#2e3b40" stroke-width="0.05" textLength="27.00" lengthAdjust="spacingAndGlyphs">TNF<tspan font-size="75%" baseline-shift="super">+</tspan> Tex</text>
<text x="268.20" y="626.87" font-size="7.13" fill="#3a1858" stroke="#3a1858" stroke-width="0.05" textLength="41.80" lengthAdjust="spacingAndGlyphs">HAVCR2<tspan font-size="75%" baseline-shift="super">+</tspan> Tex</text>
<text x="243.60" y="633.77" font-size="7.13" fill="#8e7fc8" stroke="#8e7fc8" stroke-width="0.05" textLength="30.20" lengthAdjust="spacingAndGlyphs">XCL1<tspan font-size="75%" baseline-shift="super">+</tspan> Tex</text>
<text x="201.80" y="632.17" font-size="7.13" fill="#cdcdcd" stroke="#cdcdcd" stroke-width="0.05" textLength="34.60" lengthAdjust="spacingAndGlyphs">CXCR5<tspan font-size="75%" baseline-shift="super">+</tspan> Tpex</text>
<text x="198.90" y="621.47" font-size="7.13" fill="#cdcdcd" stroke="#cdcdcd" stroke-width="0.05" textLength="25.90" lengthAdjust="spacingAndGlyphs">NME1<tspan font-size="75%" baseline-shift="super">+</tspan> T</text>
<text x="186.00" y="610.57" font-size="7.13" fill="#cdcdcd" stroke="#cdcdcd" stroke-width="0.05" textLength="30.20" lengthAdjust="spacingAndGlyphs">CD8<tspan font-size="75%" baseline-shift="super">+</tspan> Treg</text>
<text x="170.50" y="599.17" font-size="7.13" fill="#c2183a" stroke="#c2183a" stroke-width="0.05" textLength="39.50" lengthAdjust="spacingAndGlyphs">ZNF683<tspan font-size="75%" baseline-shift="super">+</tspan> Tem</text>
<text x="163.00" y="585.67" font-size="7.13" fill="#eab0a8" stroke="#eab0a8" stroke-width="0.05" textLength="46.50" lengthAdjust="spacingAndGlyphs">CX3CR1<tspan font-size="75%" baseline-shift="super">+</tspan> Temra</text>
<text x="158.20" y="574.17" font-size="7.13" fill="#4a3220" stroke="#4a3220" stroke-width="0.05" textLength="54.10" lengthAdjust="spacingAndGlyphs">TYROBP<tspan font-size="75%" baseline-shift="super">+</tspan> NK-like T</text>
<text x="174.60" y="562.37" font-size="7.13" fill="#2c6a62" stroke="#2c6a62" stroke-width="0.05" textLength="35.40" lengthAdjust="spacingAndGlyphs">CD160<tspan font-size="75%" baseline-shift="super">+</tspan> Teff</text>
<text x="180.30" y="552.97" font-size="7.13" fill="#5fb04f" stroke="#5fb04f" stroke-width="0.05" textLength="35.90" lengthAdjust="spacingAndGlyphs">KLRG1<tspan font-size="75%" baseline-shift="super">+</tspan> Teff</text>
<rect x="0.5" y="0.5" width="519" height="641" fill="none" stroke="#555" stroke-width="1.2"/>
</svg></div></body></html>
